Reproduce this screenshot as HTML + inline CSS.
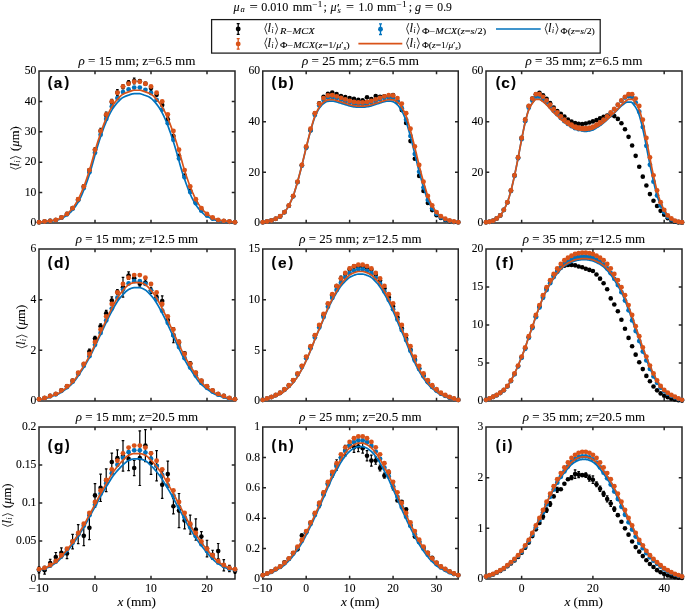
<!DOCTYPE html><html><head><meta charset="utf-8"><style>html,body{margin:0;padding:0;background:#fff;overflow:hidden}svg{display:block;will-change:transform}text{font-family:"Liberation Serif",serif;fill:#000;stroke:#000;stroke-width:0.08px}.tk{font-size:11.6px}.pl{font-family:"Liberation Sans",sans-serif;font-weight:bold;stroke:#000;stroke-width:0.15px}.lg{font-size:12.5px}</style></head><body>
<svg width="685" height="610" viewBox="0 0 685 610">
<rect width="685" height="610" fill="#fff"/>
<defs>
<clipPath id="cpa"><rect x="36.00" y="68.00" width="202.00" height="158.00"/></clipPath>
<clipPath id="cpb"><rect x="259.75" y="68.00" width="201.50" height="158.00"/></clipPath>
<clipPath id="cpc"><rect x="483.00" y="68.00" width="202.00" height="158.00"/></clipPath>
<clipPath id="cpd"><rect x="36.00" y="246.00" width="202.00" height="158.00"/></clipPath>
<clipPath id="cpe"><rect x="259.75" y="246.00" width="201.50" height="158.00"/></clipPath>
<clipPath id="cpf"><rect x="483.00" y="246.00" width="202.00" height="158.00"/></clipPath>
<clipPath id="cpg"><rect x="36.00" y="424.00" width="202.00" height="158.00"/></clipPath>
<clipPath id="cph"><rect x="259.75" y="424.00" width="201.50" height="158.00"/></clipPath>
<clipPath id="cpi"><rect x="483.00" y="424.00" width="202.00" height="158.00"/></clipPath>
</defs>
<path d="M39.00 71.00H235.00V223.00H39.00ZM95.00 223.00V220.50M95.00 71.00V73.50M151.00 223.00V220.50M151.00 71.00V73.50M207.00 223.00V220.50M207.00 71.00V73.50M39.00 192.60H41.50M235.00 192.60H232.50M39.00 162.20H41.50M235.00 162.20H232.50M39.00 131.80H41.50M235.00 131.80H232.50M39.00 101.40H41.50M235.00 101.40H232.50" fill="none" stroke="#262626" stroke-width="1.5" stroke-linecap="square"/>
<g clip-path="url(#cpa)">
<path d="M95.00 147.75V151.88M93.70 147.75H96.30M93.70 151.88H96.30M100.60 128.25V133.77M99.30 128.25H101.90M99.30 133.77H101.90M106.20 112.07V118.32M104.90 112.07H107.50M104.90 118.32H107.50M111.80 99.40V104.36M110.50 99.40H113.10M110.50 104.36H113.10M117.40 89.55V95.45M116.10 89.55H118.70M116.10 95.45H118.70M123.00 84.66V88.84M121.70 84.66H124.30M121.70 88.84H124.30M128.60 80.50V85.12M127.30 80.50H129.90M127.30 85.12H129.90M134.20 78.14V83.84M132.90 78.14H135.50M132.90 83.84H135.50M151.00 85.79V90.41M149.70 85.79H152.30M149.70 90.41H152.30M167.80 116.37V122.19M166.50 116.37H169.10M166.50 122.19H169.10" stroke="#000" stroke-width="1.2" fill="none"/>
<g fill="#000"><circle cx="39.00" cy="222.22" r="2.30"/><circle cx="44.60" cy="221.48" r="2.30"/><circle cx="50.20" cy="220.88" r="2.30"/><circle cx="55.80" cy="219.95" r="2.30"/><circle cx="61.40" cy="217.51" r="2.30"/><circle cx="67.00" cy="213.92" r="2.30"/><circle cx="72.60" cy="208.14" r="2.30"/><circle cx="78.20" cy="199.38" r="2.30"/><circle cx="83.80" cy="186.42" r="2.30"/><circle cx="89.40" cy="170.16" r="2.30"/><circle cx="95.00" cy="149.82" r="2.30"/><circle cx="100.60" cy="131.01" r="2.30"/><circle cx="106.20" cy="115.19" r="2.30"/><circle cx="111.80" cy="101.88" r="2.30"/><circle cx="117.40" cy="92.50" r="2.30"/><circle cx="123.00" cy="86.75" r="2.30"/><circle cx="128.60" cy="82.81" r="2.30"/><circle cx="134.20" cy="80.99" r="2.30"/><circle cx="139.80" cy="81.14" r="2.30"/><circle cx="145.40" cy="83.65" r="2.30"/><circle cx="151.00" cy="88.10" r="2.30"/><circle cx="156.60" cy="94.85" r="2.30"/><circle cx="162.20" cy="104.94" r="2.30"/><circle cx="167.80" cy="119.28" r="2.30"/><circle cx="173.40" cy="136.03" r="2.30"/><circle cx="179.00" cy="155.78" r="2.30"/><circle cx="184.60" cy="175.48" r="2.30"/><circle cx="190.20" cy="190.76" r="2.30"/><circle cx="195.80" cy="202.30" r="2.30"/><circle cx="201.40" cy="210.07" r="2.30"/><circle cx="207.00" cy="215.14" r="2.30"/><circle cx="212.60" cy="218.37" r="2.30"/><circle cx="218.20" cy="220.30" r="2.30"/><circle cx="223.80" cy="221.07" r="2.30"/><circle cx="229.40" cy="221.68" r="2.30"/><circle cx="235.00" cy="222.21" r="2.30"/></g>
<g fill="#0072BD"><circle cx="39.00" cy="222.24" r="2.40"/><circle cx="44.60" cy="221.54" r="2.40"/><circle cx="50.20" cy="220.96" r="2.40"/><circle cx="55.80" cy="220.08" r="2.40"/><circle cx="61.40" cy="217.72" r="2.40"/><circle cx="67.00" cy="214.25" r="2.40"/><circle cx="72.60" cy="208.71" r="2.40"/><circle cx="78.20" cy="200.26" r="2.40"/><circle cx="83.80" cy="188.02" r="2.40"/><circle cx="89.40" cy="172.27" r="2.40"/><circle cx="95.00" cy="152.74" r="2.40"/><circle cx="100.60" cy="134.66" r="2.40"/><circle cx="106.20" cy="118.91" r="2.40"/><circle cx="111.80" cy="106.51" r="2.40"/><circle cx="117.40" cy="98.04" r="2.40"/><circle cx="123.00" cy="92.06" r="2.40"/><circle cx="128.60" cy="89.43" r="2.40"/><circle cx="134.20" cy="87.58" r="2.40"/><circle cx="139.80" cy="87.61" r="2.40"/><circle cx="145.40" cy="89.80" r="2.40"/><circle cx="151.00" cy="93.01" r="2.40"/><circle cx="156.60" cy="99.93" r="2.40"/><circle cx="162.20" cy="109.55" r="2.40"/><circle cx="167.80" cy="123.14" r="2.40"/><circle cx="173.40" cy="139.78" r="2.40"/><circle cx="179.00" cy="158.58" r="2.40"/><circle cx="184.60" cy="177.35" r="2.40"/><circle cx="190.20" cy="192.05" r="2.40"/><circle cx="195.80" cy="203.13" r="2.40"/><circle cx="201.40" cy="210.63" r="2.40"/><circle cx="207.00" cy="215.45" r="2.40"/><circle cx="212.60" cy="218.57" r="2.40"/><circle cx="218.20" cy="220.42" r="2.40"/><circle cx="223.80" cy="221.15" r="2.40"/><circle cx="229.40" cy="221.74" r="2.40"/><circle cx="235.00" cy="222.24" r="2.40"/></g>
<polyline fill="none" stroke="#0072BD" stroke-width="1.7" points="39.00,222.21 40.40,222.21 41.80,222.15 43.20,221.95 44.60,221.77 46.00,221.59 47.40,221.42 48.80,221.27 50.20,221.12 51.60,220.96 53.00,220.78 54.40,220.59 55.80,220.37 57.20,220.09 58.60,219.72 60.00,219.17 61.40,218.48 62.80,217.74 64.20,216.97 65.60,216.12 67.00,215.18 68.40,214.13 69.80,212.94 71.20,211.57 72.60,210.03 74.00,208.33 75.40,206.45 76.80,204.32 78.20,201.97 79.60,199.41 81.00,196.58 82.40,193.42 83.80,190.03 85.20,186.46 86.60,182.68 88.00,178.65 89.40,174.40 90.80,169.95 92.20,165.12 93.60,160.01 95.00,154.93 96.40,150.14 97.80,145.53 99.20,141.06 100.60,136.77 102.00,132.71 103.40,128.80 104.80,125.07 106.20,121.59 107.60,118.40 109.00,115.38 110.40,112.59 111.80,110.07 113.20,107.89 114.60,105.92 116.00,104.14 117.40,102.53 118.80,101.05 120.20,99.63 121.60,98.37 123.00,97.38 124.40,96.67 125.80,96.10 127.20,95.61 128.60,95.16 130.00,94.67 131.40,94.16 132.80,93.78 134.20,93.65 135.60,93.65 137.00,93.65 138.40,93.65 139.80,93.68 141.20,93.97 142.60,94.45 144.00,94.99 145.40,95.46 146.80,95.95 148.20,96.52 149.60,97.22 151.00,98.20 152.40,99.49 153.80,100.95 155.20,102.48 156.60,104.14 158.00,105.97 159.40,107.99 160.80,110.24 162.20,112.82 163.60,115.68 165.00,118.75 166.40,122.00 167.80,125.55 169.20,129.34 170.60,133.29 172.00,137.40 173.40,141.73 174.80,146.25 176.20,150.88 177.60,155.74 179.00,160.85 180.40,165.94 181.80,170.70 183.20,175.12 184.60,179.34 186.00,183.33 187.40,187.07 188.80,190.61 190.20,193.98 191.60,197.08 193.00,199.86 194.40,202.38 195.80,204.70 197.20,206.79 198.60,208.63 200.00,210.30 201.40,211.81 202.80,213.15 204.20,214.32 205.60,215.35 207.00,216.27 208.40,217.10 209.80,217.87 211.20,218.61 212.60,219.27 214.00,219.80 215.40,220.15 216.80,220.41 218.20,220.62 219.60,220.81 221.00,220.99 222.40,221.15 223.80,221.29 225.20,221.44 226.60,221.62 228.00,221.80 229.40,221.99 230.80,222.18 232.20,222.21 233.60,222.21 235.00,222.21"/>
<g fill="#D95319"><circle cx="39.00" cy="222.21" r="2.45"/><circle cx="44.60" cy="221.48" r="2.45"/><circle cx="50.20" cy="220.87" r="2.45"/><circle cx="55.80" cy="219.96" r="2.45"/><circle cx="61.40" cy="217.50" r="2.45"/><circle cx="67.00" cy="213.88" r="2.45"/><circle cx="72.60" cy="208.10" r="2.45"/><circle cx="78.20" cy="199.29" r="2.45"/><circle cx="83.80" cy="186.52" r="2.45"/><circle cx="89.40" cy="170.10" r="2.45"/><circle cx="95.00" cy="149.74" r="2.45"/><circle cx="100.60" cy="130.89" r="2.45"/><circle cx="106.20" cy="114.47" r="2.45"/><circle cx="111.80" cy="101.55" r="2.45"/><circle cx="117.40" cy="92.74" r="2.45"/><circle cx="123.00" cy="86.50" r="2.45"/><circle cx="128.60" cy="83.77" r="2.45"/><circle cx="134.20" cy="81.79" r="2.45"/><circle cx="139.80" cy="81.79" r="2.45"/><circle cx="145.40" cy="83.77" r="2.45"/><circle cx="151.00" cy="86.50" r="2.45"/><circle cx="156.60" cy="92.74" r="2.45"/><circle cx="162.20" cy="101.55" r="2.45"/><circle cx="167.80" cy="114.47" r="2.45"/><circle cx="173.40" cy="130.89" r="2.45"/><circle cx="179.00" cy="149.74" r="2.45"/><circle cx="184.60" cy="170.10" r="2.45"/><circle cx="190.20" cy="186.52" r="2.45"/><circle cx="195.80" cy="199.29" r="2.45"/><circle cx="201.40" cy="208.10" r="2.45"/><circle cx="207.00" cy="213.88" r="2.45"/><circle cx="212.60" cy="217.50" r="2.45"/><circle cx="218.20" cy="219.96" r="2.45"/><circle cx="223.80" cy="220.87" r="2.45"/><circle cx="229.40" cy="221.48" r="2.45"/><circle cx="235.00" cy="222.21" r="2.45"/></g>
<polyline fill="none" stroke="#D95319" stroke-width="1.7" points="39.00,222.21 40.40,222.02 41.80,221.83 43.20,221.65 44.60,221.48 46.00,221.33 47.40,221.18 48.80,221.04 50.20,220.87 51.60,220.69 53.00,220.49 54.40,220.26 55.80,219.96 57.20,219.53 58.60,218.93 60.00,218.23 61.40,217.50 62.80,216.73 64.20,215.88 65.60,214.94 67.00,213.88 68.40,212.68 69.80,211.31 71.20,209.79 72.60,208.11 74.00,206.25 75.40,204.15 76.80,201.83 78.20,199.33 79.60,196.56 81.00,193.47 82.40,190.15 83.80,186.67 85.20,182.98 86.60,179.05 88.00,174.89 89.40,170.55 90.80,165.86 92.20,160.84 93.60,155.77 95.00,150.92 96.40,146.30 97.80,141.78 99.20,137.41 100.60,133.24 102.00,129.23 103.40,125.37 104.80,121.71 106.20,118.32 107.60,115.15 109.00,112.15 110.40,109.39 111.80,106.94 113.20,104.77 114.60,102.80 116.00,101.01 117.40,99.39 118.80,97.85 120.20,96.39 121.60,95.13 123.00,94.16 124.40,93.45 125.80,92.86 127.20,92.36 128.60,91.89 130.00,91.37 131.40,90.84 132.80,90.43 134.20,90.26 135.60,90.26 137.00,90.26 138.40,90.26 139.80,90.26 141.20,90.43 142.60,90.84 144.00,91.37 145.40,91.89 146.80,92.36 148.20,92.86 149.60,93.45 151.00,94.16 152.40,95.13 153.80,96.39 155.20,97.85 156.60,99.39 158.00,101.01 159.40,102.80 160.80,104.77 162.20,106.94 163.60,109.39 165.00,112.15 166.40,115.15 167.80,118.32 169.20,121.71 170.60,125.37 172.00,129.23 173.40,133.24 174.80,137.41 176.20,141.78 177.60,146.30 179.00,150.92 180.40,155.77 181.80,160.84 183.20,165.86 184.60,170.55 186.00,174.89 187.40,179.05 188.80,182.98 190.20,186.67 191.60,190.15 193.00,193.47 194.40,196.56 195.80,199.33 197.20,201.83 198.60,204.15 200.00,206.25 201.40,208.11 202.80,209.79 204.20,211.31 205.60,212.68 207.00,213.88 208.40,214.94 209.80,215.88 211.20,216.73 212.60,217.50 214.00,218.23 215.40,218.93 216.80,219.53 218.20,219.96 219.60,220.26 221.00,220.49 222.40,220.69 223.80,220.87 225.20,221.04 226.60,221.18 228.00,221.33 229.40,221.48 230.80,221.65 232.20,221.83 233.60,222.02 235.00,222.21"/>
</g>
<text class="tk" x="36.40" y="226.20" text-anchor="end">0</text>
<text class="tk" x="36.40" y="195.80" text-anchor="end">10</text>
<text class="tk" x="36.40" y="165.40" text-anchor="end">20</text>
<text class="tk" x="36.40" y="135.00" text-anchor="end">30</text>
<text class="tk" x="36.40" y="104.60" text-anchor="end">40</text>
<text class="tk" x="36.40" y="74.20" text-anchor="end">50</text>
<text class="tk" x="78.50" y="64.70" textLength="117.0" lengthAdjust="spacingAndGlyphs"><tspan font-style="italic">ρ</tspan> = 15 mm; z=6.5 mm</text>
<text class="pl" x="47.63" y="86.76" font-size="13.9">(</text>
<text class="pl" x="53.65" y="87.85" font-size="15.4">a</text>
<text class="pl" x="64.42" y="86.76" font-size="13.9">)</text>
<path d="M262.75 71.00H458.25V223.00H262.75ZM306.19 223.00V220.50M306.19 71.00V73.50M349.64 223.00V220.50M349.64 71.00V73.50M393.08 223.00V220.50M393.08 71.00V73.50M436.53 223.00V220.50M436.53 71.00V73.50M262.75 172.33H265.25M458.25 172.33H455.75M262.75 121.67H265.25M458.25 121.67H455.75" fill="none" stroke="#262626" stroke-width="1.5" stroke-linecap="square"/>
<g clip-path="url(#cpb)">
<g fill="#000"><circle cx="262.75" cy="222.24" r="2.30"/><circle cx="267.09" cy="221.46" r="2.30"/><circle cx="271.44" cy="220.44" r="2.30"/><circle cx="275.78" cy="218.82" r="2.30"/><circle cx="280.13" cy="216.38" r="2.30"/><circle cx="284.47" cy="212.11" r="2.30"/><circle cx="288.82" cy="205.78" r="2.30"/><circle cx="293.16" cy="196.32" r="2.30"/><circle cx="297.51" cy="181.96" r="2.30"/><circle cx="301.85" cy="165.13" r="2.30"/><circle cx="306.19" cy="147.40" r="2.30"/><circle cx="310.54" cy="130.41" r="2.30"/><circle cx="314.88" cy="113.50" r="2.30"/><circle cx="319.23" cy="103.25" r="2.30"/><circle cx="323.57" cy="96.84" r="2.30"/><circle cx="327.92" cy="93.80" r="2.30"/><circle cx="332.26" cy="92.53" r="2.30"/><circle cx="336.61" cy="94.05" r="2.30"/><circle cx="340.95" cy="96.08" r="2.30"/><circle cx="345.29" cy="97.09" r="2.30"/><circle cx="349.64" cy="98.11" r="2.30"/><circle cx="353.98" cy="98.87" r="2.30"/><circle cx="358.33" cy="99.88" r="2.30"/><circle cx="362.67" cy="100.39" r="2.30"/><circle cx="367.02" cy="97.35" r="2.30"/><circle cx="371.36" cy="99.12" r="2.30"/><circle cx="375.71" cy="96.08" r="2.30"/><circle cx="380.05" cy="96.84" r="2.30"/><circle cx="384.39" cy="96.33" r="2.30"/><circle cx="388.74" cy="97.02" r="2.30"/><circle cx="393.08" cy="95.01" r="2.30"/><circle cx="397.43" cy="101.12" r="2.30"/><circle cx="401.77" cy="110.11" r="2.30"/><circle cx="406.12" cy="122.94" r="2.30"/><circle cx="410.46" cy="141.08" r="2.30"/><circle cx="414.81" cy="158.71" r="2.30"/><circle cx="419.15" cy="175.91" r="2.30"/><circle cx="423.49" cy="191.03" r="2.30"/><circle cx="427.84" cy="202.97" r="2.30"/><circle cx="432.18" cy="210.11" r="2.30"/><circle cx="436.53" cy="215.13" r="2.30"/><circle cx="440.87" cy="218.07" r="2.30"/><circle cx="445.22" cy="219.97" r="2.30"/><circle cx="449.56" cy="221.18" r="2.30"/><circle cx="453.91" cy="222.01" r="2.30"/><circle cx="458.25" cy="222.25" r="2.30"/></g>
<g fill="#0072BD"><circle cx="262.75" cy="222.25" r="2.40"/><circle cx="267.09" cy="221.50" r="2.40"/><circle cx="271.44" cy="220.50" r="2.40"/><circle cx="275.78" cy="218.86" r="2.40"/><circle cx="280.13" cy="216.41" r="2.40"/><circle cx="284.47" cy="212.27" r="2.40"/><circle cx="288.82" cy="205.78" r="2.40"/><circle cx="293.16" cy="196.30" r="2.40"/><circle cx="297.51" cy="182.33" r="2.40"/><circle cx="301.85" cy="165.86" r="2.40"/><circle cx="306.19" cy="147.64" r="2.40"/><circle cx="310.54" cy="130.17" r="2.40"/><circle cx="314.88" cy="114.95" r="2.40"/><circle cx="319.23" cy="105.47" r="2.40"/><circle cx="323.57" cy="99.98" r="2.40"/><circle cx="327.92" cy="97.48" r="2.40"/><circle cx="332.26" cy="97.24" r="2.40"/><circle cx="336.61" cy="98.23" r="2.40"/><circle cx="340.95" cy="99.73" r="2.40"/><circle cx="345.29" cy="101.23" r="2.40"/><circle cx="349.64" cy="102.73" r="2.40"/><circle cx="353.98" cy="103.73" r="2.40"/><circle cx="358.33" cy="104.22" r="2.40"/><circle cx="362.67" cy="104.22" r="2.40"/><circle cx="367.02" cy="103.70" r="2.40"/><circle cx="371.36" cy="102.63" r="2.40"/><circle cx="375.71" cy="101.02" r="2.40"/><circle cx="380.05" cy="99.40" r="2.40"/><circle cx="384.39" cy="97.88" r="2.40"/><circle cx="388.74" cy="97.26" r="2.40"/><circle cx="393.08" cy="97.94" r="2.40"/><circle cx="397.43" cy="101.44" r="2.40"/><circle cx="401.77" cy="108.21" r="2.40"/><circle cx="406.12" cy="119.65" r="2.40"/><circle cx="410.46" cy="136.07" r="2.40"/><circle cx="414.81" cy="154.03" r="2.40"/><circle cx="419.15" cy="171.85" r="2.40"/><circle cx="423.49" cy="187.60" r="2.40"/><circle cx="427.84" cy="200.03" r="2.40"/><circle cx="432.18" cy="208.35" r="2.40"/><circle cx="436.53" cy="213.94" r="2.40"/><circle cx="440.87" cy="217.40" r="2.40"/><circle cx="445.22" cy="219.51" r="2.40"/><circle cx="449.56" cy="220.90" r="2.40"/><circle cx="453.91" cy="221.79" r="2.40"/><circle cx="458.25" cy="222.25" r="2.40"/></g>
<polyline fill="none" stroke="#0072BD" stroke-width="1.7" points="262.75,222.24 263.84,222.07 264.92,221.89 266.01,221.69 267.09,221.48 268.18,221.26 269.27,221.02 270.35,220.76 271.44,220.47 272.52,220.12 273.61,219.72 274.70,219.28 275.78,218.79 276.87,218.27 277.96,217.69 279.04,217.05 280.13,216.31 281.21,215.46 282.30,214.46 283.39,213.34 284.47,212.11 285.56,210.73 286.64,209.16 287.73,207.42 288.82,205.53 289.90,203.47 290.99,201.19 292.07,198.68 293.16,195.95 294.25,192.86 295.33,189.39 296.42,185.69 297.51,181.90 298.59,178.01 299.68,173.96 300.76,169.78 301.85,165.53 302.94,161.15 304.02,156.65 305.11,152.13 306.19,147.73 307.28,143.42 308.37,139.16 309.45,135.02 310.54,131.07 311.62,127.21 312.71,123.43 313.80,119.94 314.88,116.95 315.97,114.40 317.06,112.10 318.14,110.08 319.23,108.37 320.31,106.87 321.40,105.53 322.49,104.38 323.57,103.48 324.66,102.73 325.74,102.05 326.83,101.54 327.92,101.28 329.00,101.19 330.09,101.13 331.18,101.08 332.26,101.07 333.35,101.15 334.43,101.37 335.52,101.66 336.61,101.94 337.69,102.24 338.78,102.57 339.86,102.92 340.95,103.26 342.04,103.60 343.12,103.93 344.21,104.26 345.29,104.59 346.38,104.93 347.47,105.29 348.55,105.63 349.64,105.92 350.73,106.18 351.81,106.42 352.90,106.64 353.98,106.81 355.07,106.96 356.16,107.11 357.24,107.21 358.33,107.25 359.41,107.25 360.50,107.25 361.59,107.25 362.67,107.25 363.76,107.20 364.84,107.09 365.93,106.94 367.02,106.78 368.10,106.60 369.19,106.37 370.27,106.11 371.36,105.83 372.45,105.50 373.53,105.14 374.62,104.76 375.71,104.40 376.79,104.05 377.88,103.69 378.96,103.34 380.05,102.98 381.14,102.60 382.22,102.24 383.31,101.93 384.39,101.63 385.48,101.34 386.57,101.13 387.65,101.07 388.74,101.09 389.82,101.14 390.91,101.22 392.00,101.33 393.08,101.69 394.17,102.27 395.26,102.99 396.34,103.78 397.43,104.78 398.51,106.01 399.60,107.42 400.69,108.99 401.77,110.83 402.86,112.96 403.94,115.37 405.03,118.05 406.12,121.26 407.20,124.90 408.29,128.74 409.38,132.61 410.46,136.64 411.55,140.84 412.63,145.13 413.72,149.46 414.81,153.92 415.89,158.45 416.98,162.92 418.06,167.23 419.15,171.46 420.24,175.59 421.32,179.59 422.41,183.42 423.49,187.19 424.58,190.81 425.67,194.15 426.75,197.07 427.84,199.71 428.92,202.13 430.01,204.32 431.10,206.30 432.18,208.13 433.27,209.81 434.36,211.30 435.44,212.62 436.53,213.80 437.61,214.88 438.70,215.82 439.79,216.62 440.87,217.31 441.96,217.93 443.04,218.49 444.13,218.99 445.22,219.46 446.30,219.89 447.39,220.27 448.48,220.59 449.56,220.87 450.65,221.12 451.73,221.35 452.82,221.57 453.91,221.77 454.99,221.96 456.08,222.14 457.16,222.24 458.25,222.24"/>
<g fill="#D95319"><circle cx="262.75" cy="222.24" r="2.45"/><circle cx="267.09" cy="221.48" r="2.45"/><circle cx="271.44" cy="220.47" r="2.45"/><circle cx="275.78" cy="218.79" r="2.45"/><circle cx="280.13" cy="216.31" r="2.45"/><circle cx="284.47" cy="212.11" r="2.45"/><circle cx="288.82" cy="205.52" r="2.45"/><circle cx="293.16" cy="195.89" r="2.45"/><circle cx="297.51" cy="181.71" r="2.45"/><circle cx="301.85" cy="164.99" r="2.45"/><circle cx="306.19" cy="146.49" r="2.45"/><circle cx="310.54" cy="128.76" r="2.45"/><circle cx="314.88" cy="113.31" r="2.45"/><circle cx="319.23" cy="103.68" r="2.45"/><circle cx="323.57" cy="98.11" r="2.45"/><circle cx="327.92" cy="95.57" r="2.45"/><circle cx="332.26" cy="95.32" r="2.45"/><circle cx="336.61" cy="96.33" r="2.45"/><circle cx="340.95" cy="97.85" r="2.45"/><circle cx="345.29" cy="99.37" r="2.45"/><circle cx="349.64" cy="100.89" r="2.45"/><circle cx="353.98" cy="101.91" r="2.45"/><circle cx="358.33" cy="102.41" r="2.45"/><circle cx="362.67" cy="102.41" r="2.45"/><circle cx="367.02" cy="101.91" r="2.45"/><circle cx="371.36" cy="100.89" r="2.45"/><circle cx="375.71" cy="99.37" r="2.45"/><circle cx="380.05" cy="97.85" r="2.45"/><circle cx="384.39" cy="96.33" r="2.45"/><circle cx="388.74" cy="95.32" r="2.45"/><circle cx="393.08" cy="95.57" r="2.45"/><circle cx="397.43" cy="98.11" r="2.45"/><circle cx="401.77" cy="103.68" r="2.45"/><circle cx="406.12" cy="113.31" r="2.45"/><circle cx="410.46" cy="128.76" r="2.45"/><circle cx="414.81" cy="146.49" r="2.45"/><circle cx="419.15" cy="164.99" r="2.45"/><circle cx="423.49" cy="181.71" r="2.45"/><circle cx="427.84" cy="195.89" r="2.45"/><circle cx="432.18" cy="205.52" r="2.45"/><circle cx="436.53" cy="212.11" r="2.45"/><circle cx="440.87" cy="216.31" r="2.45"/><circle cx="445.22" cy="218.79" r="2.45"/><circle cx="449.56" cy="220.47" r="2.45"/><circle cx="453.91" cy="221.48" r="2.45"/><circle cx="458.25" cy="222.24" r="2.45"/></g>
<polyline fill="none" stroke="#D95319" stroke-width="1.7" points="262.75,222.24 263.84,222.07 264.92,221.89 266.01,221.69 267.09,221.48 268.18,221.26 269.27,221.02 270.35,220.76 271.44,220.47 272.52,220.12 273.61,219.72 274.70,219.28 275.78,218.79 276.87,218.27 277.96,217.69 279.04,217.05 280.13,216.31 281.21,215.46 282.30,214.46 283.39,213.34 284.47,212.11 285.56,210.73 286.64,209.15 287.73,207.42 288.82,205.53 289.90,203.47 290.99,201.18 292.07,198.67 293.16,195.93 294.25,192.84 295.33,189.36 296.42,185.65 297.51,181.85 298.59,177.95 299.68,173.87 300.76,169.67 301.85,165.39 302.94,160.99 304.02,156.44 305.11,151.88 306.19,147.43 307.28,143.06 308.37,138.73 309.45,134.52 310.54,130.51 311.62,126.57 312.71,122.70 313.80,119.13 314.88,116.06 315.97,113.44 317.06,111.07 318.14,108.99 319.23,107.22 320.31,105.68 321.40,104.29 322.49,103.10 323.57,102.17 324.66,101.39 325.74,100.69 326.83,100.16 327.92,99.89 329.00,99.79 330.09,99.72 331.18,99.68 332.26,99.66 333.35,99.75 334.43,99.98 335.52,100.28 336.61,100.57 337.69,100.88 338.78,101.22 339.86,101.59 340.95,101.94 342.04,102.28 343.12,102.63 344.21,102.97 345.29,103.31 346.38,103.67 347.47,104.04 348.55,104.38 349.64,104.69 350.73,104.96 351.81,105.21 352.90,105.43 353.98,105.61 355.07,105.77 356.16,105.92 357.24,106.03 358.33,106.07 359.41,106.07 360.50,106.07 361.59,106.07 362.67,106.07 363.76,106.03 364.84,105.92 365.93,105.77 367.02,105.61 368.10,105.43 369.19,105.21 370.27,104.96 371.36,104.69 372.45,104.38 373.53,104.04 374.62,103.67 375.71,103.31 376.79,102.97 377.88,102.63 378.96,102.28 380.05,101.94 381.14,101.59 382.22,101.22 383.31,100.88 384.39,100.57 385.48,100.28 386.57,99.98 387.65,99.75 388.74,99.66 389.82,99.68 390.91,99.72 392.00,99.79 393.08,99.89 394.17,100.16 395.26,100.69 396.34,101.39 397.43,102.17 398.51,103.10 399.60,104.29 400.69,105.68 401.77,107.22 402.86,108.99 403.94,111.07 405.03,113.44 406.12,116.06 407.20,119.13 408.29,122.70 409.38,126.57 410.46,130.51 411.55,134.52 412.63,138.73 413.72,143.06 414.81,147.43 415.89,151.88 416.98,156.44 418.06,160.99 419.15,165.39 420.24,169.67 421.32,173.87 422.41,177.95 423.49,181.85 424.58,185.65 425.67,189.36 426.75,192.84 427.84,195.93 428.92,198.67 430.01,201.18 431.10,203.47 432.18,205.53 433.27,207.42 434.36,209.15 435.44,210.73 436.53,212.11 437.61,213.34 438.70,214.46 439.79,215.46 440.87,216.31 441.96,217.05 443.04,217.69 444.13,218.27 445.22,218.79 446.30,219.28 447.39,219.72 448.48,220.12 449.56,220.47 450.65,220.76 451.73,221.02 452.82,221.26 453.91,221.48 454.99,221.69 456.08,221.89 457.16,222.07 458.25,222.24"/>
</g>
<text class="tk" x="260.15" y="226.20" text-anchor="end">0</text>
<text class="tk" x="260.15" y="175.53" text-anchor="end">20</text>
<text class="tk" x="260.15" y="124.87" text-anchor="end">40</text>
<text class="tk" x="260.15" y="74.20" text-anchor="end">60</text>
<text class="tk" x="302.00" y="64.70" textLength="117.0" lengthAdjust="spacingAndGlyphs"><tspan font-style="italic">ρ</tspan> = 25 mm; z=6.5 mm</text>
<text class="pl" x="271.58" y="86.76" font-size="13.9">(</text>
<text class="pl" x="278.09" y="87.85" font-size="15.4">b</text>
<text class="pl" x="288.95" y="86.76" font-size="13.9">)</text>
<path d="M486.00 71.00H682.00V223.00H486.00ZM521.64 223.00V220.50M521.64 71.00V73.50M592.91 223.00V220.50M592.91 71.00V73.50M664.18 223.00V220.50M664.18 71.00V73.50M486.00 172.33H488.50M682.00 172.33H679.50M486.00 121.67H488.50M682.00 121.67H679.50" fill="none" stroke="#262626" stroke-width="1.5" stroke-linecap="square"/>
<g clip-path="url(#cpc)">
<g fill="#000"><circle cx="486.00" cy="222.24" r="2.30"/><circle cx="489.56" cy="221.73" r="2.30"/><circle cx="493.13" cy="220.72" r="2.30"/><circle cx="496.69" cy="218.44" r="2.30"/><circle cx="500.25" cy="215.40" r="2.30"/><circle cx="503.82" cy="209.83" r="2.30"/><circle cx="507.38" cy="202.23" r="2.30"/><circle cx="510.95" cy="190.57" r="2.30"/><circle cx="514.51" cy="175.37" r="2.30"/><circle cx="518.07" cy="157.39" r="2.30"/><circle cx="521.64" cy="137.88" r="2.30"/><circle cx="525.20" cy="119.64" r="2.30"/><circle cx="528.76" cy="105.96" r="2.30"/><circle cx="532.33" cy="98.61" r="2.30"/><circle cx="535.89" cy="94.31" r="2.30"/><circle cx="539.45" cy="92.79" r="2.30"/><circle cx="543.02" cy="95.32" r="2.30"/><circle cx="546.58" cy="98.87" r="2.30"/><circle cx="550.15" cy="103.17" r="2.30"/><circle cx="553.71" cy="107.48" r="2.30"/><circle cx="557.27" cy="111.03" r="2.30"/><circle cx="560.84" cy="113.81" r="2.30"/><circle cx="564.40" cy="116.60" r="2.30"/><circle cx="567.96" cy="119.64" r="2.30"/><circle cx="571.53" cy="121.67" r="2.30"/><circle cx="575.09" cy="122.93" r="2.30"/><circle cx="578.65" cy="123.69" r="2.30"/><circle cx="582.22" cy="123.95" r="2.30"/><circle cx="585.78" cy="123.44" r="2.30"/><circle cx="589.35" cy="122.43" r="2.30"/><circle cx="592.91" cy="121.41" r="2.30"/><circle cx="596.47" cy="120.15" r="2.30"/><circle cx="600.04" cy="118.37" r="2.30"/><circle cx="603.60" cy="116.85" r="2.30"/><circle cx="607.16" cy="115.59" r="2.30"/><circle cx="610.73" cy="115.08" r="2.30"/><circle cx="614.29" cy="116.09" r="2.30"/><circle cx="617.85" cy="118.88" r="2.30"/><circle cx="621.42" cy="123.19" r="2.30"/><circle cx="624.98" cy="129.27" r="2.30"/><circle cx="628.55" cy="136.87" r="2.30"/><circle cx="632.11" cy="145.48" r="2.30"/><circle cx="635.67" cy="155.87" r="2.30"/><circle cx="639.24" cy="166.76" r="2.30"/><circle cx="642.80" cy="176.64" r="2.30"/><circle cx="646.36" cy="185.51" r="2.30"/><circle cx="649.93" cy="194.12" r="2.30"/><circle cx="653.49" cy="200.71" r="2.30"/><circle cx="657.05" cy="206.03" r="2.30"/><circle cx="660.62" cy="210.84" r="2.30"/><circle cx="664.18" cy="214.64" r="2.30"/><circle cx="667.75" cy="218.19" r="2.30"/><circle cx="671.31" cy="220.47" r="2.30"/><circle cx="674.87" cy="221.73" r="2.30"/><circle cx="678.44" cy="222.49" r="2.30"/><circle cx="682.00" cy="222.75" r="2.30"/></g>
<g fill="#0072BD"><circle cx="486.00" cy="222.25" r="2.40"/><circle cx="489.56" cy="221.75" r="2.40"/><circle cx="493.13" cy="220.75" r="2.40"/><circle cx="496.69" cy="218.51" r="2.40"/><circle cx="500.25" cy="215.51" r="2.40"/><circle cx="503.82" cy="210.02" r="2.40"/><circle cx="507.38" cy="202.54" r="2.40"/><circle cx="510.95" cy="191.06" r="2.40"/><circle cx="514.51" cy="176.09" r="2.40"/><circle cx="518.07" cy="158.37" r="2.40"/><circle cx="521.64" cy="139.16" r="2.40"/><circle cx="525.20" cy="121.19" r="2.40"/><circle cx="528.76" cy="107.72" r="2.40"/><circle cx="532.33" cy="100.48" r="2.40"/><circle cx="535.89" cy="96.24" r="2.40"/><circle cx="539.45" cy="96.24" r="2.40"/><circle cx="543.02" cy="98.73" r="2.40"/><circle cx="546.58" cy="102.23" r="2.40"/><circle cx="550.15" cy="106.47" r="2.40"/><circle cx="553.71" cy="110.71" r="2.40"/><circle cx="557.27" cy="114.20" r="2.40"/><circle cx="560.84" cy="117.95" r="2.40"/><circle cx="564.40" cy="121.19" r="2.40"/><circle cx="567.96" cy="123.94" r="2.40"/><circle cx="571.53" cy="126.18" r="2.40"/><circle cx="575.09" cy="128.18" r="2.40"/><circle cx="578.65" cy="129.18" r="2.40"/><circle cx="582.22" cy="129.67" r="2.40"/><circle cx="585.78" cy="129.67" r="2.40"/><circle cx="589.35" cy="129.15" r="2.40"/><circle cx="592.91" cy="128.07" r="2.40"/><circle cx="596.47" cy="125.89" r="2.40"/><circle cx="600.04" cy="123.40" r="2.40"/><circle cx="603.60" cy="120.36" r="2.40"/><circle cx="607.16" cy="116.81" r="2.40"/><circle cx="610.73" cy="113.05" r="2.40"/><circle cx="614.29" cy="109.32" r="2.40"/><circle cx="617.85" cy="104.97" r="2.40"/><circle cx="621.42" cy="100.91" r="2.40"/><circle cx="624.98" cy="97.60" r="2.40"/><circle cx="628.55" cy="96.24" r="2.40"/><circle cx="632.11" cy="97.01" r="2.40"/><circle cx="635.67" cy="102.56" r="2.40"/><circle cx="639.24" cy="111.68" r="2.40"/><circle cx="642.80" cy="127.05" r="2.40"/><circle cx="646.36" cy="145.85" r="2.40"/><circle cx="649.93" cy="164.80" r="2.40"/><circle cx="653.49" cy="181.67" r="2.40"/><circle cx="657.05" cy="195.49" r="2.40"/><circle cx="660.62" cy="205.48" r="2.40"/><circle cx="664.18" cy="212.20" r="2.40"/><circle cx="667.75" cy="216.73" r="2.40"/><circle cx="671.31" cy="219.41" r="2.40"/><circle cx="674.87" cy="221.19" r="2.40"/><circle cx="678.44" cy="221.97" r="2.40"/><circle cx="682.00" cy="222.25" r="2.40"/></g>
<polyline fill="none" stroke="#0072BD" stroke-width="1.7" points="486.00,222.24 486.89,222.16 487.78,222.04 488.67,221.90 489.56,221.73 490.45,221.55 491.35,221.32 492.24,221.04 493.13,220.72 494.02,220.29 494.91,219.73 495.80,219.10 496.69,218.44 497.58,217.78 498.47,217.09 499.36,216.31 500.25,215.40 501.15,214.28 502.04,212.93 502.93,211.42 503.82,209.83 504.71,208.17 505.60,206.38 506.49,204.42 507.38,202.25 508.27,199.76 509.16,196.94 510.05,193.88 510.95,190.65 511.84,187.22 512.73,183.53 513.62,179.64 514.51,175.62 515.40,171.44 516.29,167.07 517.18,162.58 518.07,158.03 518.96,153.39 519.85,148.63 520.75,143.89 521.64,139.30 522.53,134.78 523.42,130.30 524.31,126.04 525.20,122.17 526.09,118.58 526.98,115.18 527.87,112.13 528.76,109.64 529.65,107.62 530.55,105.86 531.44,104.34 532.33,103.03 533.22,101.75 534.11,100.51 535.00,99.57 535.89,99.20 536.78,99.20 537.67,99.20 538.56,99.20 539.45,99.20 540.35,99.43 541.24,99.99 542.13,100.73 543.02,101.45 543.91,102.15 544.80,102.92 545.69,103.75 546.58,104.62 547.47,105.53 548.36,106.50 549.25,107.50 550.15,108.49 551.04,109.48 551.93,110.49 552.82,111.47 553.71,112.40 554.60,113.25 555.49,114.04 556.38,114.83 557.27,115.64 558.16,116.50 559.05,117.40 559.95,118.28 560.84,119.13 561.73,119.93 562.62,120.71 563.51,121.46 564.40,122.17 565.29,122.86 566.18,123.53 567.07,124.16 567.96,124.76 568.85,125.33 569.75,125.87 570.64,126.38 571.53,126.89 572.42,127.41 573.31,127.93 574.20,128.40 575.09,128.78 575.98,129.08 576.87,129.34 577.76,129.55 578.65,129.73 579.55,129.90 580.44,130.05 581.33,130.16 582.22,130.20 583.11,130.20 584.00,131.33 584.89,131.33 585.78,131.33 586.67,131.28 587.56,131.17 588.45,131.01 589.35,130.85 590.24,130.67 591.13,130.45 592.02,130.18 592.91,129.86 593.80,129.44 594.69,128.93 595.58,128.40 596.47,127.88 597.36,127.35 598.25,126.81 599.15,126.24 600.04,125.63 600.93,124.99 601.82,124.31 602.71,123.62 603.60,122.90 604.49,122.15 605.38,121.37 606.27,120.57 607.16,119.73 608.05,118.87 608.95,118.00 609.84,117.18 610.73,116.41 611.62,115.66 612.51,114.89 613.40,114.06 614.29,113.16 615.18,112.22 616.07,111.27 616.96,110.34 617.85,109.40 618.75,108.47 619.64,107.58 620.53,106.75 621.42,105.95 622.31,105.20 623.20,104.50 624.09,103.86 624.98,103.17 625.87,102.53 626.76,102.11 627.65,102.03 628.55,102.03 629.44,102.03 630.33,102.03 631.22,102.09 632.11,102.67 633.00,103.68 633.89,104.88 634.78,106.05 635.67,107.35 636.56,108.85 637.45,110.60 638.35,112.63 639.24,115.21 640.13,118.25 641.02,121.58 641.91,125.06 642.80,128.94 643.69,133.14 644.58,137.49 645.47,141.87 646.36,146.41 647.25,151.07 648.15,155.70 649.04,160.20 649.93,164.66 650.82,169.05 651.71,173.31 652.60,177.37 653.49,181.31 654.38,185.11 655.27,188.68 656.16,191.99 657.05,195.15 657.95,198.12 658.84,200.81 659.73,203.16 660.62,205.24 661.51,207.12 662.40,208.85 663.29,210.48 664.18,212.04 665.07,213.49 665.96,214.76 666.85,215.78 667.75,216.63 668.64,217.37 669.53,218.05 670.42,218.70 671.31,219.36 672.20,219.97 673.09,220.48 673.98,220.86 674.87,221.16 675.76,221.41 676.65,221.63 677.55,221.80 678.44,221.96 679.33,222.09 680.22,222.19 681.11,222.24 682.00,222.24"/>
<g fill="#D95319"><circle cx="486.00" cy="222.24" r="2.45"/><circle cx="489.56" cy="221.73" r="2.45"/><circle cx="493.13" cy="220.72" r="2.45"/><circle cx="496.69" cy="218.44" r="2.45"/><circle cx="500.25" cy="215.40" r="2.45"/><circle cx="503.82" cy="209.83" r="2.45"/><circle cx="507.38" cy="202.23" r="2.45"/><circle cx="510.95" cy="190.57" r="2.45"/><circle cx="514.51" cy="175.37" r="2.45"/><circle cx="518.07" cy="157.39" r="2.45"/><circle cx="521.64" cy="137.88" r="2.45"/><circle cx="525.20" cy="119.64" r="2.45"/><circle cx="528.76" cy="105.96" r="2.45"/><circle cx="532.33" cy="98.61" r="2.45"/><circle cx="535.89" cy="94.31" r="2.45"/><circle cx="539.45" cy="94.31" r="2.45"/><circle cx="543.02" cy="96.84" r="2.45"/><circle cx="546.58" cy="100.39" r="2.45"/><circle cx="550.15" cy="104.69" r="2.45"/><circle cx="553.71" cy="109.00" r="2.45"/><circle cx="557.27" cy="112.55" r="2.45"/><circle cx="560.84" cy="116.35" r="2.45"/><circle cx="564.40" cy="119.64" r="2.45"/><circle cx="567.96" cy="122.43" r="2.45"/><circle cx="571.53" cy="124.71" r="2.45"/><circle cx="575.09" cy="126.73" r="2.45"/><circle cx="578.65" cy="127.75" r="2.45"/><circle cx="582.22" cy="128.25" r="2.45"/><circle cx="585.78" cy="128.25" r="2.45"/><circle cx="589.35" cy="127.75" r="2.45"/><circle cx="592.91" cy="126.73" r="2.45"/><circle cx="596.47" cy="124.71" r="2.45"/><circle cx="600.04" cy="122.43" r="2.45"/><circle cx="603.60" cy="119.64" r="2.45"/><circle cx="607.16" cy="116.35" r="2.45"/><circle cx="610.73" cy="112.55" r="2.45"/><circle cx="614.29" cy="109.00" r="2.45"/><circle cx="617.85" cy="104.69" r="2.45"/><circle cx="621.42" cy="100.39" r="2.45"/><circle cx="624.98" cy="96.84" r="2.45"/><circle cx="628.55" cy="94.31" r="2.45"/><circle cx="632.11" cy="94.31" r="2.45"/><circle cx="635.67" cy="98.61" r="2.45"/><circle cx="639.24" cy="105.96" r="2.45"/><circle cx="642.80" cy="119.64" r="2.45"/><circle cx="646.36" cy="137.88" r="2.45"/><circle cx="649.93" cy="157.39" r="2.45"/><circle cx="653.49" cy="175.37" r="2.45"/><circle cx="657.05" cy="190.57" r="2.45"/><circle cx="660.62" cy="202.23" r="2.45"/><circle cx="664.18" cy="209.83" r="2.45"/><circle cx="667.75" cy="215.40" r="2.45"/><circle cx="671.31" cy="218.44" r="2.45"/><circle cx="674.87" cy="220.72" r="2.45"/><circle cx="678.44" cy="221.73" r="2.45"/><circle cx="682.00" cy="222.24" r="2.45"/></g>
<polyline fill="none" stroke="#D95319" stroke-width="1.7" points="486.00,222.24 486.89,222.16 487.78,222.04 488.67,221.90 489.56,221.73 490.45,221.55 491.35,221.32 492.24,221.04 493.13,220.72 494.02,220.29 494.91,219.73 495.80,219.10 496.69,218.44 497.58,217.78 498.47,217.09 499.36,216.31 500.25,215.40 501.15,214.28 502.04,212.93 502.93,211.42 503.82,209.83 504.71,208.17 505.60,206.38 506.49,204.42 507.38,202.25 508.27,199.76 509.16,196.94 510.05,193.88 510.95,190.66 511.84,187.23 512.73,183.53 513.62,179.65 514.51,175.63 515.40,171.46 516.29,167.09 517.18,162.60 518.07,158.07 518.96,153.43 519.85,148.68 520.75,143.95 521.64,139.37 522.53,134.87 523.42,130.41 524.31,126.16 525.20,122.31 526.09,118.73 526.98,115.34 527.87,112.31 528.76,109.83 529.65,107.82 530.55,106.07 531.44,104.56 532.33,103.26 533.22,101.99 534.11,100.75 535.00,99.82 535.89,99.45 536.78,99.45 537.67,99.45 538.56,99.45 539.45,99.45 540.35,99.68 541.24,100.24 542.13,100.97 543.02,101.69 543.91,102.39 544.80,103.16 545.69,103.98 546.58,104.84 547.47,105.75 548.36,106.71 549.25,107.71 550.15,108.69 551.04,109.68 551.93,110.68 552.82,111.66 553.71,112.58 554.60,113.42 555.49,114.21 556.38,114.99 557.27,115.80 558.16,116.66 559.05,117.55 559.95,118.44 560.84,119.28 561.73,120.07 562.62,120.85 563.51,121.59 564.40,122.31 565.29,122.99 566.18,123.65 567.07,124.28 567.96,124.88 568.85,125.45 569.75,125.98 570.64,126.50 571.53,127.00 572.42,127.52 573.31,128.04 574.20,128.51 575.09,128.89 575.98,129.18 576.87,129.44 577.76,129.66 578.65,129.83 579.55,130.00 580.44,130.15 581.33,130.26 582.22,130.31 583.11,130.31 584.00,130.31 584.89,130.31 585.78,130.31 586.67,130.26 587.56,130.15 588.45,130.00 589.35,129.83 590.24,129.66 591.13,129.44 592.02,129.18 592.91,128.89 593.80,128.51 594.69,128.04 595.58,127.52 596.47,127.00 597.36,126.50 598.25,125.98 599.15,125.45 600.04,124.88 600.93,124.28 601.82,123.65 602.71,122.99 603.60,122.31 604.49,121.59 605.38,120.85 606.27,120.07 607.16,119.28 608.05,118.44 608.95,117.55 609.84,116.66 610.73,115.80 611.62,114.99 612.51,114.21 613.40,113.42 614.29,112.58 615.18,111.66 616.07,110.68 616.96,109.68 617.85,108.69 618.75,107.71 619.64,106.71 620.53,105.75 621.42,104.84 622.31,103.98 623.20,103.16 624.09,102.39 624.98,101.69 625.87,100.97 626.76,100.24 627.65,99.68 628.55,99.45 629.44,99.45 630.33,99.45 631.22,99.45 632.11,99.45 633.00,99.82 633.89,100.75 634.78,101.99 635.67,103.26 636.56,104.56 637.45,106.07 638.35,107.82 639.24,109.83 640.13,112.31 641.02,115.34 641.91,118.73 642.80,122.31 643.69,126.16 644.58,130.41 645.47,134.87 646.36,139.37 647.25,143.95 648.15,148.68 649.04,153.43 649.93,158.07 650.82,162.60 651.71,167.09 652.60,171.46 653.49,175.63 654.38,179.65 655.27,183.53 656.16,187.23 657.05,190.66 657.95,193.88 658.84,196.94 659.73,199.76 660.62,202.25 661.51,204.42 662.40,206.38 663.29,208.17 664.18,209.83 665.07,211.42 665.96,212.93 666.85,214.28 667.75,215.40 668.64,216.31 669.53,217.09 670.42,217.78 671.31,218.44 672.20,219.10 673.09,219.73 673.98,220.29 674.87,220.72 675.76,221.04 676.65,221.32 677.55,221.55 678.44,221.73 679.33,221.90 680.22,222.04 681.11,222.16 682.00,222.24"/>
</g>
<text class="tk" x="483.40" y="226.20" text-anchor="end">0</text>
<text class="tk" x="483.40" y="175.53" text-anchor="end">20</text>
<text class="tk" x="483.40" y="124.87" text-anchor="end">40</text>
<text class="tk" x="483.40" y="74.20" text-anchor="end">60</text>
<text class="tk" x="525.50" y="64.70" textLength="117.0" lengthAdjust="spacingAndGlyphs"><tspan font-style="italic">ρ</tspan> = 35 mm; z=6.5 mm</text>
<text class="pl" x="495.63" y="86.76" font-size="13.9">(</text>
<text class="pl" x="501.35" y="87.85" font-size="15.4">c</text>
<text class="pl" x="511.25" y="86.76" font-size="13.9">)</text>
<path d="M39.00 249.00H235.00V401.00H39.00ZM95.00 401.00V398.50M95.00 249.00V251.50M151.00 401.00V398.50M151.00 249.00V251.50M207.00 401.00V398.50M207.00 249.00V251.50M39.00 350.33H41.50M235.00 350.33H232.50M39.00 299.67H41.50M235.00 299.67H232.50" fill="none" stroke="#262626" stroke-width="1.5" stroke-linecap="square"/>
<g clip-path="url(#cpd)">
<path d="M89.40 349.07V354.13M88.10 349.07H90.70M88.10 354.13H90.70M95.00 336.40V340.45M93.70 336.40H96.30M93.70 340.45H96.30M100.60 323.73V328.80M99.30 323.73H101.90M99.30 328.80H101.90M106.20 310.31V316.39M104.90 310.31H107.50M104.90 316.39H107.50M111.80 296.88V303.97M110.50 296.88H113.10M110.50 303.97H113.10M117.40 289.53V294.60M116.10 289.53H118.70M116.10 294.60H118.70M123.00 277.37V297.13M121.70 277.37H124.30M121.70 297.13H124.30M128.60 271.80V279.40M127.30 271.80H129.90M127.30 279.40H129.90M134.20 275.09V281.17M132.90 275.09H135.50M132.90 281.17H135.50M139.80 281.17V286.24M138.50 281.17H141.10M138.50 286.24H141.10M145.40 279.40V285.48M144.10 279.40H146.70M144.10 285.48H146.70M151.00 287.25V293.33M149.70 287.25H152.30M149.70 293.33H152.30M156.60 294.09V300.17M155.30 294.09H157.90M155.30 300.17H157.90M162.20 295.87V306.00M160.90 295.87H163.50M160.90 306.00H163.50M167.80 316.89V322.97M166.50 316.89H169.10M166.50 322.97H169.10M173.40 327.53V342.73M172.10 327.53H174.70M172.10 342.73H174.70M179.00 340.20V345.27M177.70 340.20H180.30M177.70 345.27H180.30" stroke="#000" stroke-width="1.2" fill="none"/>
<g fill="#000"><circle cx="39.00" cy="399.27" r="2.30"/><circle cx="44.60" cy="397.94" r="2.30"/><circle cx="50.20" cy="395.85" r="2.30"/><circle cx="55.80" cy="393.93" r="2.30"/><circle cx="61.40" cy="390.20" r="2.30"/><circle cx="67.00" cy="386.19" r="2.30"/><circle cx="72.60" cy="380.67" r="2.30"/><circle cx="78.20" cy="373.08" r="2.30"/><circle cx="83.80" cy="364.12" r="2.30"/><circle cx="89.40" cy="351.60" r="2.30"/><circle cx="95.00" cy="338.43" r="2.30"/><circle cx="100.60" cy="326.27" r="2.30"/><circle cx="106.20" cy="313.35" r="2.30"/><circle cx="111.80" cy="300.43" r="2.30"/><circle cx="117.40" cy="292.07" r="2.30"/><circle cx="123.00" cy="287.25" r="2.30"/><circle cx="128.60" cy="275.60" r="2.30"/><circle cx="134.20" cy="278.13" r="2.30"/><circle cx="139.80" cy="283.71" r="2.30"/><circle cx="145.40" cy="282.44" r="2.30"/><circle cx="151.00" cy="290.29" r="2.30"/><circle cx="156.60" cy="297.13" r="2.30"/><circle cx="162.20" cy="300.93" r="2.30"/><circle cx="167.80" cy="319.93" r="2.30"/><circle cx="173.40" cy="335.13" r="2.30"/><circle cx="179.00" cy="342.73" r="2.30"/><circle cx="184.60" cy="353.36" r="2.30"/><circle cx="190.20" cy="363.26" r="2.30"/><circle cx="195.80" cy="372.77" r="2.30"/><circle cx="201.40" cy="380.72" r="2.30"/><circle cx="207.00" cy="386.26" r="2.30"/><circle cx="212.60" cy="390.59" r="2.30"/><circle cx="218.20" cy="393.99" r="2.30"/><circle cx="223.80" cy="395.87" r="2.30"/><circle cx="229.40" cy="397.93" r="2.30"/><circle cx="235.00" cy="399.24" r="2.30"/></g>
<g fill="#0072BD"><circle cx="39.00" cy="399.31" r="2.40"/><circle cx="44.60" cy="398.11" r="2.40"/><circle cx="50.20" cy="396.18" r="2.40"/><circle cx="55.80" cy="394.25" r="2.40"/><circle cx="61.40" cy="390.87" r="2.40"/><circle cx="67.00" cy="387.01" r="2.40"/><circle cx="72.60" cy="381.71" r="2.40"/><circle cx="78.20" cy="373.99" r="2.40"/><circle cx="83.80" cy="365.79" r="2.40"/><circle cx="89.40" cy="356.14" r="2.40"/><circle cx="95.00" cy="344.81" r="2.40"/><circle cx="100.60" cy="332.99" r="2.40"/><circle cx="106.20" cy="320.44" r="2.40"/><circle cx="111.80" cy="308.62" r="2.40"/><circle cx="117.40" cy="297.75" r="2.40"/><circle cx="123.00" cy="289.53" r="2.40"/><circle cx="128.60" cy="283.50" r="2.40"/><circle cx="134.20" cy="281.14" r="2.40"/><circle cx="139.80" cy="281.15" r="2.40"/><circle cx="145.40" cy="283.93" r="2.40"/><circle cx="151.00" cy="290.57" r="2.40"/><circle cx="156.60" cy="299.42" r="2.40"/><circle cx="162.20" cy="310.74" r="2.40"/><circle cx="167.80" cy="322.83" r="2.40"/><circle cx="173.40" cy="335.37" r="2.40"/><circle cx="179.00" cy="347.12" r="2.40"/><circle cx="184.60" cy="358.19" r="2.40"/><circle cx="190.20" cy="367.52" r="2.40"/><circle cx="195.80" cy="375.61" r="2.40"/><circle cx="201.40" cy="382.92" r="2.40"/><circle cx="207.00" cy="387.87" r="2.40"/><circle cx="212.60" cy="391.60" r="2.40"/><circle cx="218.20" cy="394.70" r="2.40"/><circle cx="223.80" cy="396.58" r="2.40"/><circle cx="229.40" cy="398.39" r="2.40"/><circle cx="235.00" cy="399.31" r="2.40"/></g>
<polyline fill="none" stroke="#0072BD" stroke-width="1.7" points="39.00,399.23 40.40,399.23 41.80,399.23 43.20,399.07 44.60,398.78 46.00,398.43 47.40,398.05 48.80,397.62 50.20,397.10 51.60,396.54 53.00,395.99 54.40,395.48 55.80,395.00 57.20,394.49 58.60,393.88 60.00,393.11 61.40,392.19 62.80,391.19 64.20,390.20 65.60,389.22 67.00,388.21 68.40,387.13 69.80,385.95 71.20,384.66 72.60,383.25 74.00,381.70 75.40,380.00 76.80,378.02 78.20,375.87 79.60,373.68 81.00,371.54 82.40,369.41 83.80,367.25 85.20,365.00 86.60,362.63 88.00,360.16 89.40,357.60 90.80,354.94 92.20,352.17 93.60,349.25 95.00,346.28 96.40,343.31 97.80,340.37 99.20,337.43 100.60,334.47 102.00,331.49 103.40,328.45 104.80,325.39 106.20,322.37 107.60,319.47 109.00,316.66 110.40,313.92 111.80,311.28 113.20,308.73 114.60,306.21 116.00,303.79 117.40,301.56 118.80,299.57 120.20,297.74 121.60,296.05 123.00,294.52 124.40,293.09 125.80,291.71 127.20,290.50 128.60,289.57 130.00,288.89 131.40,288.28 132.80,287.84 134.20,287.68 135.60,287.68 137.00,287.68 138.40,287.68 139.80,287.70 141.20,287.98 142.60,288.50 144.00,289.17 145.40,289.94 146.80,291.04 148.20,292.39 149.60,293.85 151.00,295.36 152.40,297.03 153.80,298.85 155.20,300.81 156.60,303.01 158.00,305.42 159.40,307.95 160.80,310.53 162.20,313.17 163.60,315.91 165.00,318.72 166.40,321.61 167.80,324.62 169.20,327.70 170.60,330.76 172.00,333.76 173.40,336.73 174.80,339.68 176.20,342.62 177.60,345.58 179.00,348.57 180.40,351.50 181.80,354.32 183.20,357.00 184.60,359.58 186.00,362.07 187.40,364.46 188.80,366.74 190.20,368.93 191.60,371.06 193.00,373.18 194.40,375.37 195.80,377.54 197.20,379.57 198.60,381.33 200.00,382.91 201.40,384.35 202.80,385.66 204.20,386.87 205.60,387.97 207.00,388.99 208.40,389.98 209.80,390.96 211.20,391.96 212.60,392.91 214.00,393.72 215.40,394.36 216.80,394.89 218.20,395.38 219.60,395.87 221.00,396.41 222.40,396.97 223.80,397.50 225.20,397.96 226.60,398.35 228.00,398.70 229.40,399.01 230.80,399.23 232.20,399.23 233.60,399.23 235.00,399.23"/>
<g fill="#D95319"><circle cx="39.00" cy="399.23" r="2.45"/><circle cx="44.60" cy="397.96" r="2.45"/><circle cx="50.20" cy="395.93" r="2.45"/><circle cx="55.80" cy="393.91" r="2.45"/><circle cx="61.40" cy="390.36" r="2.45"/><circle cx="67.00" cy="386.31" r="2.45"/><circle cx="72.60" cy="380.73" r="2.45"/><circle cx="78.20" cy="372.63" r="2.45"/><circle cx="83.80" cy="364.01" r="2.45"/><circle cx="89.40" cy="353.88" r="2.45"/><circle cx="95.00" cy="341.97" r="2.45"/><circle cx="100.60" cy="329.56" r="2.45"/><circle cx="106.20" cy="316.39" r="2.45"/><circle cx="111.80" cy="303.97" r="2.45"/><circle cx="117.40" cy="292.57" r="2.45"/><circle cx="123.00" cy="283.96" r="2.45"/><circle cx="128.60" cy="277.63" r="2.45"/><circle cx="134.20" cy="275.09" r="2.45"/><circle cx="139.80" cy="275.09" r="2.45"/><circle cx="145.40" cy="277.63" r="2.45"/><circle cx="151.00" cy="283.96" r="2.45"/><circle cx="156.60" cy="292.57" r="2.45"/><circle cx="162.20" cy="303.97" r="2.45"/><circle cx="167.80" cy="316.39" r="2.45"/><circle cx="173.40" cy="329.56" r="2.45"/><circle cx="179.00" cy="341.97" r="2.45"/><circle cx="184.60" cy="353.88" r="2.45"/><circle cx="190.20" cy="364.01" r="2.45"/><circle cx="195.80" cy="372.63" r="2.45"/><circle cx="201.40" cy="380.73" r="2.45"/><circle cx="207.00" cy="386.31" r="2.45"/><circle cx="212.60" cy="390.36" r="2.45"/><circle cx="218.20" cy="393.91" r="2.45"/><circle cx="223.80" cy="395.93" r="2.45"/><circle cx="229.40" cy="397.96" r="2.45"/><circle cx="235.00" cy="399.23" r="2.45"/></g>
<polyline fill="none" stroke="#D95319" stroke-width="1.7" points="39.00,399.23 40.40,399.23 41.80,399.07 43.20,398.78 44.60,398.45 46.00,398.08 47.40,397.65 48.80,397.14 50.20,396.59 51.60,396.05 53.00,395.55 54.40,395.07 55.80,394.58 57.20,394.00 58.60,393.27 60.00,392.38 61.40,391.41 62.80,390.42 64.20,389.46 65.60,388.47 67.00,387.43 68.40,386.30 69.80,385.05 71.20,383.70 72.60,382.22 74.00,380.60 75.40,378.74 76.80,376.66 78.20,374.48 79.60,372.34 81.00,370.24 82.40,368.11 83.80,365.91 85.20,363.61 86.60,361.19 88.00,358.68 89.40,356.07 90.80,353.36 92.20,350.49 93.60,347.52 95.00,344.51 96.40,341.53 97.80,338.54 99.20,335.53 100.60,332.50 102.00,329.42 103.40,326.27 104.80,323.10 106.20,319.99 107.60,316.98 109.00,314.05 110.40,311.18 111.80,308.39 113.20,305.67 114.60,302.98 116.00,300.39 117.40,298.00 118.80,295.86 120.20,293.87 121.60,292.02 123.00,290.34 124.40,288.75 125.80,287.21 127.20,285.86 128.60,284.83 130.00,284.06 131.40,283.36 132.80,282.85 134.20,282.65 135.60,282.65 137.00,282.65 138.40,282.65 139.80,282.65 141.20,282.85 142.60,283.36 144.00,284.06 145.40,284.83 146.80,285.86 148.20,287.21 149.60,288.75 151.00,290.34 152.40,292.02 153.80,293.87 155.20,295.86 156.60,298.00 158.00,300.39 159.40,302.98 160.80,305.67 162.20,308.39 163.60,311.18 165.00,314.05 166.40,316.98 167.80,319.99 169.20,323.10 170.60,326.27 172.00,329.42 173.40,332.50 174.80,335.53 176.20,338.54 177.60,341.53 179.00,344.51 180.40,347.52 181.80,350.49 183.20,353.36 184.60,356.07 186.00,358.68 187.40,361.19 188.80,363.61 190.20,365.91 191.60,368.11 193.00,370.24 194.40,372.34 195.80,374.48 197.20,376.66 198.60,378.74 200.00,380.60 201.40,382.22 202.80,383.70 204.20,385.05 205.60,386.30 207.00,387.43 208.40,388.47 209.80,389.46 211.20,390.42 212.60,391.41 214.00,392.38 215.40,393.27 216.80,394.00 218.20,394.58 219.60,395.07 221.00,395.55 222.40,396.05 223.80,396.59 225.20,397.14 226.60,397.65 228.00,398.08 229.40,398.45 230.80,398.78 232.20,399.07 233.60,399.23 235.00,399.23"/>
</g>
<text class="tk" x="36.40" y="404.20" text-anchor="end">0</text>
<text class="tk" x="36.40" y="353.53" text-anchor="end">2</text>
<text class="tk" x="36.40" y="302.87" text-anchor="end">4</text>
<text class="tk" x="36.40" y="252.20" text-anchor="end">6</text>
<text class="tk" x="75.85" y="242.70" textLength="122.3" lengthAdjust="spacingAndGlyphs"><tspan font-style="italic">ρ</tspan> = 15 mm; z=12.5 mm</text>
<text class="pl" x="47.63" y="267.36" font-size="13.9">(</text>
<text class="pl" x="53.96" y="268.45" font-size="15.4">d</text>
<text class="pl" x="65.00" y="267.36" font-size="13.9">)</text>
<path d="M262.75 249.00H458.25V401.00H262.75ZM306.19 401.00V398.50M306.19 249.00V251.50M349.64 401.00V398.50M349.64 249.00V251.50M393.08 401.00V398.50M393.08 249.00V251.50M436.53 401.00V398.50M436.53 249.00V251.50M262.75 350.33H265.25M458.25 350.33H455.75M262.75 299.67H265.25M458.25 299.67H455.75" fill="none" stroke="#262626" stroke-width="1.5" stroke-linecap="square"/>
<g clip-path="url(#cpe)">
<path d="M340.95 276.09V280.81M339.65 276.09H342.25M339.65 280.81H342.25M345.29 271.68V276.21M343.99 271.68H346.59M343.99 276.21H346.59M349.64 267.26V271.97M348.34 267.26H350.94M348.34 271.97H350.94M353.98 264.55V268.58M352.68 264.55H355.28M352.68 268.58H355.28M358.33 264.02V269.96M357.03 264.02H359.63M357.03 269.96H359.63M380.05 278.06V283.14M378.75 278.06H381.35M378.75 283.14H381.35" stroke="#000" stroke-width="1.2" fill="none"/>
<g fill="#000"><circle cx="262.75" cy="399.88" r="2.30"/><circle cx="267.09" cy="398.49" r="2.30"/><circle cx="271.44" cy="396.97" r="2.30"/><circle cx="275.78" cy="395.07" r="2.30"/><circle cx="280.13" cy="392.75" r="2.30"/><circle cx="284.47" cy="389.38" r="2.30"/><circle cx="288.82" cy="385.50" r="2.30"/><circle cx="293.16" cy="380.28" r="2.30"/><circle cx="297.51" cy="374.03" r="2.30"/><circle cx="301.85" cy="366.09" r="2.30"/><circle cx="306.19" cy="356.97" r="2.30"/><circle cx="310.54" cy="346.95" r="2.30"/><circle cx="314.88" cy="335.74" r="2.30"/><circle cx="319.23" cy="325.89" r="2.30"/><circle cx="323.57" cy="315.15" r="2.30"/><circle cx="327.92" cy="304.02" r="2.30"/><circle cx="332.26" cy="295.18" r="2.30"/><circle cx="336.61" cy="286.13" r="2.30"/><circle cx="340.95" cy="278.45" r="2.30"/><circle cx="345.29" cy="273.95" r="2.30"/><circle cx="349.64" cy="269.62" r="2.30"/><circle cx="353.98" cy="266.57" r="2.30"/><circle cx="358.33" cy="266.99" r="2.30"/><circle cx="362.67" cy="266.70" r="2.30"/><circle cx="367.02" cy="267.59" r="2.30"/><circle cx="371.36" cy="269.75" r="2.30"/><circle cx="375.71" cy="274.70" r="2.30"/><circle cx="380.05" cy="280.60" r="2.30"/><circle cx="384.39" cy="288.20" r="2.30"/><circle cx="388.74" cy="297.17" r="2.30"/><circle cx="393.08" cy="306.52" r="2.30"/><circle cx="397.43" cy="317.35" r="2.30"/><circle cx="401.77" cy="328.34" r="2.30"/><circle cx="406.12" cy="338.68" r="2.30"/><circle cx="410.46" cy="349.66" r="2.30"/><circle cx="414.81" cy="359.37" r="2.30"/><circle cx="419.15" cy="368.23" r="2.30"/><circle cx="423.49" cy="375.36" r="2.30"/><circle cx="427.84" cy="381.71" r="2.30"/><circle cx="432.18" cy="386.40" r="2.30"/><circle cx="436.53" cy="390.32" r="2.30"/><circle cx="440.87" cy="393.42" r="2.30"/><circle cx="445.22" cy="395.62" r="2.30"/><circle cx="449.56" cy="397.39" r="2.30"/><circle cx="453.91" cy="398.84" r="2.30"/><circle cx="458.25" cy="399.90" r="2.30"/></g>
<g fill="#0072BD"><circle cx="262.75" cy="399.92" r="2.40"/><circle cx="267.09" cy="398.56" r="2.40"/><circle cx="271.44" cy="397.09" r="2.40"/><circle cx="275.78" cy="395.23" r="2.40"/><circle cx="280.13" cy="392.98" r="2.40"/><circle cx="284.47" cy="389.66" r="2.40"/><circle cx="288.82" cy="385.84" r="2.40"/><circle cx="293.16" cy="380.86" r="2.40"/><circle cx="297.51" cy="374.50" r="2.40"/><circle cx="301.85" cy="367.07" r="2.40"/><circle cx="306.19" cy="358.17" r="2.40"/><circle cx="310.54" cy="348.20" r="2.40"/><circle cx="314.88" cy="337.44" r="2.40"/><circle cx="319.23" cy="327.56" r="2.40"/><circle cx="323.57" cy="317.00" r="2.40"/><circle cx="327.92" cy="306.83" r="2.40"/><circle cx="332.26" cy="297.93" r="2.40"/><circle cx="336.61" cy="289.91" r="2.40"/><circle cx="340.95" cy="282.77" r="2.40"/><circle cx="345.29" cy="277.49" r="2.40"/><circle cx="349.64" cy="273.09" r="2.40"/><circle cx="353.98" cy="270.84" r="2.40"/><circle cx="358.33" cy="269.48" r="2.40"/><circle cx="362.67" cy="269.48" r="2.40"/><circle cx="367.02" cy="270.89" r="2.40"/><circle cx="371.36" cy="273.27" r="2.40"/><circle cx="375.71" cy="277.97" r="2.40"/><circle cx="380.05" cy="283.73" r="2.40"/><circle cx="384.39" cy="291.40" r="2.40"/><circle cx="388.74" cy="299.83" r="2.40"/><circle cx="393.08" cy="309.14" r="2.40"/><circle cx="397.43" cy="319.57" r="2.40"/><circle cx="401.77" cy="330.03" r="2.40"/><circle cx="406.12" cy="340.07" r="2.40"/><circle cx="410.46" cy="350.76" r="2.40"/><circle cx="414.81" cy="360.50" r="2.40"/><circle cx="419.15" cy="369.05" r="2.40"/><circle cx="423.49" cy="376.19" r="2.40"/><circle cx="427.84" cy="382.22" r="2.40"/><circle cx="432.18" cy="386.88" r="2.40"/><circle cx="436.53" cy="390.55" r="2.40"/><circle cx="440.87" cy="393.61" r="2.40"/><circle cx="445.22" cy="395.73" r="2.40"/><circle cx="449.56" cy="397.48" r="2.40"/><circle cx="453.91" cy="398.91" r="2.40"/><circle cx="458.25" cy="399.92" r="2.40"/></g>
<polyline fill="none" stroke="#0072BD" stroke-width="1.7" points="262.75,399.89 263.84,399.89 264.92,399.89 266.01,399.75 267.09,399.39 268.18,399.03 269.27,398.66 270.35,398.28 271.44,397.91 272.52,397.52 273.61,397.11 274.70,396.67 275.78,396.20 276.87,395.70 277.96,395.17 279.04,394.63 280.13,394.07 281.21,393.47 282.30,392.80 283.39,392.04 284.47,391.17 285.56,390.24 286.64,389.29 287.73,388.34 288.82,387.36 289.90,386.33 290.99,385.22 292.07,384.01 293.16,382.71 294.25,381.33 295.33,379.87 296.42,378.29 297.51,376.61 298.59,374.86 299.68,373.05 300.76,371.18 301.85,369.23 302.94,367.20 304.02,365.08 305.11,362.83 306.19,360.48 307.28,358.06 308.37,355.59 309.45,353.05 310.54,350.44 311.62,347.79 312.71,345.10 313.80,342.31 314.88,339.51 315.97,336.78 317.06,334.21 318.14,331.74 319.23,329.29 320.31,326.81 321.40,324.23 322.49,321.59 323.57,318.96 324.66,316.38 325.74,313.85 326.83,311.34 327.92,308.90 329.00,306.58 330.09,304.38 331.18,302.26 332.26,300.22 333.35,298.24 334.43,296.32 335.52,294.46 336.61,292.67 337.69,290.93 338.78,289.22 339.86,287.58 340.95,286.05 342.04,284.69 343.12,283.46 344.21,282.31 345.29,281.23 346.38,280.17 347.47,279.11 348.55,278.12 349.64,277.30 350.73,276.67 351.81,276.15 352.90,275.69 353.98,275.30 355.07,274.92 356.16,274.53 357.24,274.24 358.33,274.11 359.41,274.11 360.50,274.11 361.59,274.11 362.67,274.11 363.76,274.25 364.84,274.57 365.93,274.96 367.02,275.34 368.10,275.75 369.19,276.23 370.27,276.78 371.36,277.46 372.45,278.36 373.53,279.42 374.62,280.54 375.71,281.64 376.79,282.80 377.88,284.04 378.96,285.40 380.05,286.93 381.14,288.61 382.22,290.38 383.31,292.17 384.39,294.02 385.48,295.92 386.57,297.89 387.65,299.91 388.74,301.98 389.82,304.13 390.91,306.35 392.00,308.69 393.08,311.14 394.17,313.67 395.26,316.22 396.34,318.81 397.43,321.45 398.51,324.10 399.60,326.70 400.69,329.19 401.77,331.64 402.86,334.11 403.94,336.69 405.03,339.41 406.12,342.21 407.20,345.01 408.29,347.71 409.38,350.36 410.46,352.97 411.55,355.52 412.63,357.98 413.72,360.40 414.81,362.76 415.89,365.01 416.98,367.14 418.06,369.18 419.15,371.12 420.24,373.00 421.32,374.80 422.41,376.56 423.49,378.25 424.58,379.82 425.67,381.29 426.75,382.67 427.84,383.98 428.92,385.18 430.01,386.30 431.10,387.33 432.18,388.31 433.27,389.26 434.36,390.21 435.44,391.15 436.53,392.02 437.61,392.78 438.70,393.45 439.79,394.05 440.87,394.61 441.96,395.15 443.04,395.68 444.13,396.18 445.22,396.66 446.30,397.10 447.39,397.51 448.48,397.89 449.56,398.27 450.65,398.65 451.73,399.02 452.82,399.38 453.91,399.74 454.99,399.89 456.08,399.89 457.16,399.89 458.25,399.89"/>
<g fill="#D95319"><circle cx="262.75" cy="399.89" r="2.45"/><circle cx="267.09" cy="398.47" r="2.45"/><circle cx="271.44" cy="396.95" r="2.45"/><circle cx="275.78" cy="395.02" r="2.45"/><circle cx="280.13" cy="392.69" r="2.45"/><circle cx="284.47" cy="389.25" r="2.45"/><circle cx="288.82" cy="385.29" r="2.45"/><circle cx="293.16" cy="380.13" r="2.45"/><circle cx="297.51" cy="373.54" r="2.45"/><circle cx="301.85" cy="365.84" r="2.45"/><circle cx="306.19" cy="356.62" r="2.45"/><circle cx="310.54" cy="346.28" r="2.45"/><circle cx="314.88" cy="335.13" r="2.45"/><circle cx="319.23" cy="324.90" r="2.45"/><circle cx="323.57" cy="313.95" r="2.45"/><circle cx="327.92" cy="303.42" r="2.45"/><circle cx="332.26" cy="294.19" r="2.45"/><circle cx="336.61" cy="285.89" r="2.45"/><circle cx="340.95" cy="278.49" r="2.45"/><circle cx="345.29" cy="273.02" r="2.45"/><circle cx="349.64" cy="268.46" r="2.45"/><circle cx="353.98" cy="266.13" r="2.45"/><circle cx="358.33" cy="264.71" r="2.45"/><circle cx="362.67" cy="264.71" r="2.45"/><circle cx="367.02" cy="266.13" r="2.45"/><circle cx="371.36" cy="268.46" r="2.45"/><circle cx="375.71" cy="273.02" r="2.45"/><circle cx="380.05" cy="278.49" r="2.45"/><circle cx="384.39" cy="285.89" r="2.45"/><circle cx="388.74" cy="294.19" r="2.45"/><circle cx="393.08" cy="303.42" r="2.45"/><circle cx="397.43" cy="313.95" r="2.45"/><circle cx="401.77" cy="324.90" r="2.45"/><circle cx="406.12" cy="335.13" r="2.45"/><circle cx="410.46" cy="346.28" r="2.45"/><circle cx="414.81" cy="356.62" r="2.45"/><circle cx="419.15" cy="365.84" r="2.45"/><circle cx="423.49" cy="373.54" r="2.45"/><circle cx="427.84" cy="380.13" r="2.45"/><circle cx="432.18" cy="385.29" r="2.45"/><circle cx="436.53" cy="389.25" r="2.45"/><circle cx="440.87" cy="392.69" r="2.45"/><circle cx="445.22" cy="395.02" r="2.45"/><circle cx="449.56" cy="396.95" r="2.45"/><circle cx="453.91" cy="398.47" r="2.45"/><circle cx="458.25" cy="399.89" r="2.45"/></g>
<polyline fill="none" stroke="#D95319" stroke-width="1.7" points="262.75,399.89 263.84,399.89 264.92,399.89 266.01,399.75 267.09,399.39 268.18,399.03 269.27,398.66 270.35,398.28 271.44,397.91 272.52,397.52 273.61,397.11 274.70,396.67 275.78,396.20 276.87,395.70 277.96,395.17 279.04,394.63 280.13,394.06 281.21,393.47 282.30,392.80 283.39,392.04 284.47,391.17 285.56,390.24 286.64,389.29 287.73,388.33 288.82,387.36 289.90,386.32 290.99,385.21 292.07,384.01 293.16,382.71 294.25,381.32 295.33,379.86 296.42,378.28 297.51,376.60 298.59,374.84 299.68,373.03 300.76,371.15 301.85,369.20 302.94,367.16 304.02,365.03 305.11,362.77 306.19,360.41 307.28,357.98 308.37,355.49 309.45,352.93 310.54,350.31 311.62,347.64 312.71,344.91 313.80,342.09 314.88,339.26 315.97,336.50 317.06,333.89 318.14,331.38 319.23,328.89 320.31,326.36 321.40,323.73 322.49,321.04 323.57,318.34 324.66,315.70 325.74,313.10 326.83,310.52 327.92,308.02 329.00,305.62 330.09,303.35 331.18,301.15 332.26,299.04 333.35,296.98 334.43,294.98 335.52,293.04 336.61,291.16 337.69,289.34 338.78,287.55 339.86,285.82 340.95,284.21 342.04,282.78 343.12,281.47 344.21,280.26 345.29,279.11 346.38,277.99 347.47,276.86 348.55,275.81 349.64,274.93 350.73,274.27 351.81,273.70 352.90,273.22 353.98,272.80 355.07,272.39 356.16,271.98 357.24,271.66 358.33,271.52 359.41,271.52 360.50,271.52 361.59,271.52 362.67,271.52 363.76,271.66 364.84,271.98 365.93,272.39 367.02,272.80 368.10,273.22 369.19,273.70 370.27,274.27 371.36,274.93 372.45,275.81 373.53,276.86 374.62,277.99 375.71,279.11 376.79,280.26 377.88,281.47 378.96,282.78 380.05,284.21 381.14,285.82 382.22,287.55 383.31,289.34 384.39,291.16 385.48,293.04 386.57,294.98 387.65,296.98 388.74,299.04 389.82,301.15 390.91,303.35 392.00,305.62 393.08,308.02 394.17,310.52 395.26,313.10 396.34,315.70 397.43,318.34 398.51,321.04 399.60,323.73 400.69,326.36 401.77,328.89 402.86,331.38 403.94,333.89 405.03,336.50 406.12,339.26 407.20,342.09 408.29,344.91 409.38,347.64 410.46,350.31 411.55,352.93 412.63,355.49 413.72,357.98 414.81,360.41 415.89,362.77 416.98,365.03 418.06,367.16 419.15,369.20 420.24,371.15 421.32,373.03 422.41,374.84 423.49,376.60 424.58,378.28 425.67,379.86 426.75,381.32 427.84,382.71 428.92,384.01 430.01,385.21 431.10,386.32 432.18,387.36 433.27,388.33 434.36,389.29 435.44,390.24 436.53,391.17 437.61,392.04 438.70,392.80 439.79,393.47 440.87,394.06 441.96,394.63 443.04,395.17 444.13,395.70 445.22,396.20 446.30,396.67 447.39,397.11 448.48,397.52 449.56,397.91 450.65,398.28 451.73,398.66 452.82,399.03 453.91,399.39 454.99,399.75 456.08,399.89 457.16,399.89 458.25,399.89"/>
</g>
<text class="tk" x="260.15" y="404.20" text-anchor="end">0</text>
<text class="tk" x="260.15" y="353.53" text-anchor="end">5</text>
<text class="tk" x="260.15" y="302.87" text-anchor="end">10</text>
<text class="tk" x="260.15" y="252.20" text-anchor="end">15</text>
<text class="tk" x="299.35" y="242.70" textLength="122.3" lengthAdjust="spacingAndGlyphs"><tspan font-style="italic">ρ</tspan> = 25 mm; z=12.5 mm</text>
<text class="pl" x="271.58" y="267.36" font-size="13.9">(</text>
<text class="pl" x="278.08" y="268.45" font-size="15.4">e</text>
<text class="pl" x="288.41" y="267.36" font-size="13.9">)</text>
<path d="M486.00 249.00H682.00V401.00H486.00ZM521.64 401.00V398.50M521.64 249.00V251.50M592.91 401.00V398.50M592.91 249.00V251.50M664.18 401.00V398.50M664.18 249.00V251.50M486.00 363.00H488.50M682.00 363.00H679.50M486.00 325.00H488.50M682.00 325.00H679.50M486.00 287.00H488.50M682.00 287.00H679.50" fill="none" stroke="#262626" stroke-width="1.5" stroke-linecap="square"/>
<g clip-path="url(#cpf)">
<g fill="#000"><circle cx="486.00" cy="399.88" r="2.30"/><circle cx="489.56" cy="398.53" r="2.30"/><circle cx="493.13" cy="396.88" r="2.30"/><circle cx="496.69" cy="395.16" r="2.30"/><circle cx="500.25" cy="392.92" r="2.30"/><circle cx="503.82" cy="390.15" r="2.30"/><circle cx="507.38" cy="386.25" r="2.30"/><circle cx="510.95" cy="380.86" r="2.30"/><circle cx="514.51" cy="373.98" r="2.30"/><circle cx="518.07" cy="366.12" r="2.30"/><circle cx="521.64" cy="357.28" r="2.30"/><circle cx="525.20" cy="348.22" r="2.30"/><circle cx="528.76" cy="337.22" r="2.30"/><circle cx="532.33" cy="327.34" r="2.30"/><circle cx="535.89" cy="316.33" r="2.30"/><circle cx="539.45" cy="306.53" r="2.30"/><circle cx="543.02" cy="296.72" r="2.30"/><circle cx="546.58" cy="288.86" r="2.30"/><circle cx="550.15" cy="281.97" r="2.30"/><circle cx="553.71" cy="275.60" r="2.30"/><circle cx="557.27" cy="271.04" r="2.30"/><circle cx="560.84" cy="267.62" r="2.30"/><circle cx="564.40" cy="265.72" r="2.30"/><circle cx="567.96" cy="264.96" r="2.30"/><circle cx="571.53" cy="264.96" r="2.30"/><circle cx="575.09" cy="265.34" r="2.30"/><circle cx="578.65" cy="266.48" r="2.30"/><circle cx="582.22" cy="267.24" r="2.30"/><circle cx="585.78" cy="268.76" r="2.30"/><circle cx="589.35" cy="269.90" r="2.30"/><circle cx="592.91" cy="271.04" r="2.30"/><circle cx="596.47" cy="274.46" r="2.30"/><circle cx="600.04" cy="278.64" r="2.30"/><circle cx="603.60" cy="283.20" r="2.30"/><circle cx="607.16" cy="289.28" r="2.30"/><circle cx="610.73" cy="298.40" r="2.30"/><circle cx="614.29" cy="304.48" r="2.30"/><circle cx="617.85" cy="311.32" r="2.30"/><circle cx="621.42" cy="319.68" r="2.30"/><circle cx="624.98" cy="328.80" r="2.30"/><circle cx="628.55" cy="337.92" r="2.30"/><circle cx="632.11" cy="346.28" r="2.30"/><circle cx="635.67" cy="354.64" r="2.30"/><circle cx="639.24" cy="362.24" r="2.30"/><circle cx="642.80" cy="369.08" r="2.30"/><circle cx="646.36" cy="375.92" r="2.30"/><circle cx="649.93" cy="381.24" r="2.30"/><circle cx="653.49" cy="386.56" r="2.30"/><circle cx="657.05" cy="390.36" r="2.30"/><circle cx="660.62" cy="393.40" r="2.30"/><circle cx="664.18" cy="395.68" r="2.30"/><circle cx="667.75" cy="397.20" r="2.30"/><circle cx="671.31" cy="398.72" r="2.30"/><circle cx="674.87" cy="399.48" r="2.30"/><circle cx="678.44" cy="400.24" r="2.30"/><circle cx="682.00" cy="400.62" r="2.30"/></g>
<g fill="#0072BD"><circle cx="486.00" cy="399.89" r="2.40"/><circle cx="489.56" cy="398.55" r="2.40"/><circle cx="493.13" cy="396.92" r="2.40"/><circle cx="496.69" cy="395.22" r="2.40"/><circle cx="500.25" cy="393.00" r="2.40"/><circle cx="503.82" cy="390.26" r="2.40"/><circle cx="507.38" cy="386.40" r="2.40"/><circle cx="510.95" cy="381.07" r="2.40"/><circle cx="514.51" cy="374.25" r="2.40"/><circle cx="518.07" cy="366.47" r="2.40"/><circle cx="521.64" cy="357.73" r="2.40"/><circle cx="525.20" cy="348.76" r="2.40"/><circle cx="528.76" cy="337.87" r="2.40"/><circle cx="532.33" cy="328.09" r="2.40"/><circle cx="535.89" cy="317.19" r="2.40"/><circle cx="539.45" cy="307.49" r="2.40"/><circle cx="543.02" cy="297.78" r="2.40"/><circle cx="546.58" cy="290.00" r="2.40"/><circle cx="550.15" cy="283.18" r="2.40"/><circle cx="553.71" cy="277.10" r="2.40"/><circle cx="557.27" cy="271.77" r="2.40"/><circle cx="560.84" cy="267.40" r="2.40"/><circle cx="564.40" cy="263.77" r="2.40"/><circle cx="567.96" cy="261.32" r="2.40"/><circle cx="571.53" cy="259.39" r="2.40"/><circle cx="575.09" cy="257.69" r="2.40"/><circle cx="578.65" cy="256.95" r="2.40"/><circle cx="582.22" cy="256.43" r="2.40"/><circle cx="585.78" cy="256.43" r="2.40"/><circle cx="589.35" cy="256.97" r="2.40"/><circle cx="592.91" cy="257.76" r="2.40"/><circle cx="596.47" cy="259.61" r="2.40"/><circle cx="600.04" cy="261.72" r="2.40"/><circle cx="603.60" cy="264.50" r="2.40"/><circle cx="607.16" cy="268.48" r="2.40"/><circle cx="610.73" cy="273.19" r="2.40"/><circle cx="614.29" cy="278.81" r="2.40"/><circle cx="617.85" cy="285.12" r="2.40"/><circle cx="621.42" cy="292.19" r="2.40"/><circle cx="624.98" cy="300.53" r="2.40"/><circle cx="628.55" cy="310.36" r="2.40"/><circle cx="632.11" cy="320.40" r="2.40"/><circle cx="635.67" cy="331.06" r="2.40"/><circle cx="639.24" cy="341.11" r="2.40"/><circle cx="642.80" cy="351.58" r="2.40"/><circle cx="646.36" cy="360.40" r="2.40"/><circle cx="649.93" cy="368.90" r="2.40"/><circle cx="653.49" cy="376.41" r="2.40"/><circle cx="657.05" cy="382.82" r="2.40"/><circle cx="660.62" cy="387.69" r="2.40"/><circle cx="664.18" cy="391.16" r="2.40"/><circle cx="667.75" cy="393.72" r="2.40"/><circle cx="671.31" cy="395.77" r="2.40"/><circle cx="674.87" cy="397.43" r="2.40"/><circle cx="678.44" cy="398.98" r="2.40"/><circle cx="682.00" cy="399.89" r="2.40"/></g>
<polyline fill="none" stroke="#0072BD" stroke-width="1.7" points="486.00,399.86 486.89,399.55 487.78,399.21 488.67,398.86 489.56,398.49 490.45,398.10 491.35,397.68 492.24,397.25 493.13,396.82 494.02,396.40 494.91,395.98 495.80,395.54 496.69,395.07 497.58,394.56 498.47,394.00 499.36,393.41 500.25,392.79 501.15,392.15 502.04,391.48 502.93,390.77 503.82,389.98 504.71,389.12 505.60,388.17 506.49,387.14 507.38,386.04 508.27,384.82 509.16,383.50 510.05,382.07 510.95,380.57 511.84,378.97 512.73,377.25 513.62,375.45 514.51,373.61 515.40,371.72 516.29,369.76 517.18,367.75 518.07,365.68 518.96,363.53 519.85,361.31 520.75,359.06 521.64,356.80 522.53,354.59 523.42,352.39 524.31,350.14 525.20,347.75 526.09,345.13 526.98,342.34 527.87,339.52 528.76,336.83 529.65,334.34 530.55,331.96 531.44,329.58 532.33,327.11 533.22,324.47 534.11,321.73 535.00,319.01 535.89,316.40 536.78,313.96 537.67,311.61 538.56,309.29 539.45,306.97 540.35,304.59 541.24,302.18 542.13,299.84 543.02,297.67 543.91,295.68 544.80,293.81 545.69,292.03 546.58,290.31 547.47,288.63 548.36,287.01 549.25,285.45 550.15,283.93 551.04,282.46 551.93,281.03 552.82,279.65 553.71,278.31 554.60,277.02 555.49,275.77 556.38,274.57 557.27,273.43 558.16,272.37 559.05,271.35 559.95,270.39 560.84,269.47 561.73,268.58 562.62,267.72 563.51,266.92 564.40,266.21 565.29,265.59 566.18,265.03 567.07,264.51 567.96,264.02 568.85,263.56 569.75,263.13 570.64,262.72 571.53,262.31 572.42,261.89 573.31,261.47 574.20,261.09 575.09,260.80 575.98,260.60 576.87,260.43 577.76,260.28 578.65,260.15 579.55,260.00 580.44,259.85 581.33,259.74 582.22,259.69 583.11,259.69 584.00,259.69 584.89,259.69 585.78,259.69 586.67,259.75 587.56,259.87 588.45,260.02 589.35,260.17 590.24,260.31 591.13,260.46 592.02,260.64 592.91,260.87 593.80,261.20 594.69,261.62 595.58,262.07 596.47,262.50 597.36,262.94 598.25,263.39 599.15,263.87 600.04,264.38 600.93,264.91 601.82,265.49 602.71,266.14 603.60,266.87 604.49,267.70 605.38,268.59 606.27,269.51 607.16,270.45 608.05,271.44 608.95,272.48 609.84,273.57 610.73,274.73 611.62,275.95 612.51,277.23 613.40,278.53 614.29,279.88 615.18,281.28 616.07,282.72 616.96,284.21 617.85,285.74 618.75,287.32 619.64,288.95 620.53,290.64 621.42,292.37 622.31,294.17 623.20,296.06 624.09,298.08 624.98,300.29 625.87,302.65 626.76,305.07 627.65,307.44 628.55,309.75 629.44,312.07 630.33,314.44 631.22,316.91 632.11,319.55 633.00,322.28 633.89,325.01 634.78,327.62 635.67,330.06 636.56,332.43 637.45,334.83 638.35,337.35 639.24,340.07 640.13,342.90 641.02,345.67 641.91,348.24 642.80,350.60 643.69,352.84 644.58,355.03 645.47,357.25 646.36,359.51 647.25,361.76 648.15,363.97 649.04,366.10 649.93,368.16 650.82,370.16 651.71,372.10 652.60,373.98 653.49,375.82 654.38,377.60 655.27,379.30 656.16,380.88 657.05,382.37 657.95,383.77 658.84,385.08 659.73,386.26 660.62,387.35 661.51,388.37 662.40,389.30 663.29,390.15 664.18,390.91 665.07,391.62 665.96,392.28 666.85,392.92 667.75,393.53 668.64,394.11 669.53,394.66 670.42,395.17 671.31,395.63 672.20,396.06 673.09,396.48 673.98,396.91 674.87,397.34 675.76,397.77 676.65,398.18 677.55,398.57 678.44,398.93 679.33,399.28 680.22,399.61 681.11,399.86 682.00,399.86"/>
<g fill="#D95319"><circle cx="486.00" cy="399.86" r="2.45"/><circle cx="489.56" cy="398.49" r="2.45"/><circle cx="493.13" cy="396.82" r="2.45"/><circle cx="496.69" cy="395.07" r="2.45"/><circle cx="500.25" cy="392.79" r="2.45"/><circle cx="503.82" cy="389.98" r="2.45"/><circle cx="507.38" cy="386.03" r="2.45"/><circle cx="510.95" cy="380.56" r="2.45"/><circle cx="514.51" cy="373.56" r="2.45"/><circle cx="518.07" cy="365.58" r="2.45"/><circle cx="521.64" cy="356.62" r="2.45"/><circle cx="525.20" cy="347.42" r="2.45"/><circle cx="528.76" cy="336.25" r="2.45"/><circle cx="532.33" cy="326.22" r="2.45"/><circle cx="535.89" cy="315.04" r="2.45"/><circle cx="539.45" cy="305.09" r="2.45"/><circle cx="543.02" cy="295.13" r="2.45"/><circle cx="546.58" cy="287.15" r="2.45"/><circle cx="550.15" cy="280.16" r="2.45"/><circle cx="553.71" cy="273.93" r="2.45"/><circle cx="557.27" cy="268.46" r="2.45"/><circle cx="560.84" cy="263.97" r="2.45"/><circle cx="564.40" cy="260.25" r="2.45"/><circle cx="567.96" cy="257.74" r="2.45"/><circle cx="571.53" cy="255.76" r="2.45"/><circle cx="575.09" cy="254.02" r="2.45"/><circle cx="578.65" cy="253.26" r="2.45"/><circle cx="582.22" cy="252.72" r="2.45"/><circle cx="585.78" cy="252.72" r="2.45"/><circle cx="589.35" cy="253.26" r="2.45"/><circle cx="592.91" cy="254.02" r="2.45"/><circle cx="596.47" cy="255.76" r="2.45"/><circle cx="600.04" cy="257.74" r="2.45"/><circle cx="603.60" cy="260.25" r="2.45"/><circle cx="607.16" cy="263.97" r="2.45"/><circle cx="610.73" cy="268.46" r="2.45"/><circle cx="614.29" cy="273.93" r="2.45"/><circle cx="617.85" cy="280.16" r="2.45"/><circle cx="621.42" cy="287.15" r="2.45"/><circle cx="624.98" cy="295.13" r="2.45"/><circle cx="628.55" cy="305.09" r="2.45"/><circle cx="632.11" cy="315.04" r="2.45"/><circle cx="635.67" cy="326.22" r="2.45"/><circle cx="639.24" cy="336.25" r="2.45"/><circle cx="642.80" cy="347.42" r="2.45"/><circle cx="646.36" cy="356.62" r="2.45"/><circle cx="649.93" cy="365.58" r="2.45"/><circle cx="653.49" cy="373.56" r="2.45"/><circle cx="657.05" cy="380.56" r="2.45"/><circle cx="660.62" cy="386.03" r="2.45"/><circle cx="664.18" cy="389.98" r="2.45"/><circle cx="667.75" cy="392.79" r="2.45"/><circle cx="671.31" cy="395.07" r="2.45"/><circle cx="674.87" cy="396.82" r="2.45"/><circle cx="678.44" cy="398.49" r="2.45"/><circle cx="682.00" cy="399.86" r="2.45"/></g>
<polyline fill="none" stroke="#D95319" stroke-width="1.7" points="486.00,399.86 486.89,399.55 487.78,399.21 488.67,398.86 489.56,398.49 490.45,398.10 491.35,397.68 492.24,397.25 493.13,396.82 494.02,396.40 494.91,395.98 495.80,395.54 496.69,395.07 497.58,394.56 498.47,394.00 499.36,393.41 500.25,392.79 501.15,392.15 502.04,391.48 502.93,390.77 503.82,389.98 504.71,389.12 505.60,388.17 506.49,387.14 507.38,386.03 508.27,384.82 509.16,383.50 510.05,382.07 510.95,380.57 511.84,378.97 512.73,377.25 513.62,375.45 514.51,373.60 515.40,371.71 516.29,369.75 517.18,367.74 518.07,365.66 518.96,363.52 519.85,361.29 520.75,359.03 521.64,356.78 522.53,354.56 523.42,352.36 524.31,350.09 525.20,347.70 526.09,345.08 526.98,342.27 527.87,339.44 528.76,336.74 529.65,334.24 530.55,331.85 531.44,329.46 532.33,326.98 533.22,324.32 534.11,321.57 535.00,318.82 535.89,316.20 536.78,313.74 537.67,311.37 538.56,309.03 539.45,306.69 540.35,304.28 541.24,301.85 542.13,299.49 543.02,297.29 543.91,295.28 544.80,293.39 545.69,291.59 546.58,289.84 547.47,288.14 548.36,286.50 549.25,284.91 550.15,283.37 551.04,281.87 551.93,280.42 552.82,279.02 553.71,277.66 554.60,276.35 555.49,275.07 556.38,273.85 557.27,272.69 558.16,271.61 559.05,270.57 559.95,269.59 560.84,268.65 561.73,267.74 562.62,266.86 563.51,266.05 564.40,265.32 565.29,264.69 566.18,264.12 567.07,263.59 567.96,263.09 568.85,262.62 569.75,262.17 570.64,261.75 571.53,261.34 572.42,260.91 573.31,260.48 574.20,260.09 575.09,259.79 575.98,259.58 576.87,259.41 577.76,259.26 578.65,259.12 579.55,258.97 580.44,258.82 581.33,258.70 582.22,258.66 583.11,258.66 584.00,258.66 584.89,258.66 585.78,258.66 586.67,258.70 587.56,258.82 588.45,258.97 589.35,259.12 590.24,259.26 591.13,259.41 592.02,259.58 592.91,259.79 593.80,260.09 594.69,260.48 595.58,260.91 596.47,261.34 597.36,261.75 598.25,262.17 599.15,262.62 600.04,263.09 600.93,263.59 601.82,264.12 602.71,264.69 603.60,265.32 604.49,266.05 605.38,266.86 606.27,267.74 607.16,268.65 608.05,269.59 608.95,270.57 609.84,271.61 610.73,272.69 611.62,273.85 612.51,275.07 613.40,276.35 614.29,277.66 615.18,279.02 616.07,280.42 616.96,281.87 617.85,283.37 618.75,284.91 619.64,286.50 620.53,288.14 621.42,289.84 622.31,291.59 623.20,293.39 624.09,295.28 624.98,297.29 625.87,299.49 626.76,301.85 627.65,304.28 628.55,306.69 629.44,309.03 630.33,311.37 631.22,313.74 632.11,316.20 633.00,318.82 633.89,321.57 634.78,324.32 635.67,326.98 636.56,329.46 637.45,331.85 638.35,334.24 639.24,336.74 640.13,339.44 641.02,342.27 641.91,345.08 642.80,347.70 643.69,350.09 644.58,352.36 645.47,354.56 646.36,356.78 647.25,359.03 648.15,361.29 649.04,363.52 649.93,365.66 650.82,367.74 651.71,369.75 652.60,371.71 653.49,373.60 654.38,375.45 655.27,377.25 656.16,378.97 657.05,380.57 657.95,382.07 658.84,383.50 659.73,384.82 660.62,386.03 661.51,387.14 662.40,388.17 663.29,389.12 664.18,389.98 665.07,390.77 665.96,391.48 666.85,392.15 667.75,392.79 668.64,393.41 669.53,394.00 670.42,394.56 671.31,395.07 672.20,395.54 673.09,395.98 673.98,396.40 674.87,396.82 675.76,397.25 676.65,397.68 677.55,398.10 678.44,398.49 679.33,398.86 680.22,399.21 681.11,399.55 682.00,399.86"/>
</g>
<text class="tk" x="483.40" y="404.20" text-anchor="end">0</text>
<text class="tk" x="483.40" y="366.20" text-anchor="end">5</text>
<text class="tk" x="483.40" y="328.20" text-anchor="end">10</text>
<text class="tk" x="483.40" y="290.20" text-anchor="end">15</text>
<text class="tk" x="483.40" y="252.20" text-anchor="end">20</text>
<text class="tk" x="522.85" y="242.70" textLength="122.3" lengthAdjust="spacingAndGlyphs"><tspan font-style="italic">ρ</tspan> = 35 mm; z=12.5 mm</text>
<text class="pl" x="495.63" y="267.36" font-size="13.9">(</text>
<text class="pl" x="502.24" y="268.45" font-size="15.4">f</text>
<text class="pl" x="508.99" y="267.36" font-size="13.9">)</text>
<path d="M39.00 427.00H235.00V579.00H39.00ZM95.00 579.00V576.50M95.00 427.00V429.50M151.00 579.00V576.50M151.00 427.00V429.50M207.00 579.00V576.50M207.00 427.00V429.50M39.00 541.00H41.50M235.00 541.00H232.50M39.00 503.00H41.50M235.00 503.00H232.50M39.00 465.00H41.50M235.00 465.00H232.50" fill="none" stroke="#262626" stroke-width="1.5" stroke-linecap="square"/>
<g clip-path="url(#cpg)">
<path d="M39.00 566.84V572.92M37.70 566.84H40.30M37.70 572.92H40.30M44.60 566.46V574.06M43.30 566.46H45.90M43.30 574.06H45.90M50.20 559.24V566.84M48.90 559.24H51.50M48.90 566.84H51.50M55.80 552.48V561.60M54.50 552.48H57.10M54.50 561.60H57.10M61.40 547.84V557.87M60.10 547.84H62.70M60.10 557.87H62.70M67.00 548.52V558.56M65.70 548.52H68.30M65.70 558.56H68.30M72.60 534.39V548.83M71.30 534.39H73.90M71.30 548.83H73.90M78.20 524.66V543.66M76.90 524.66H79.50M76.90 543.66H79.50M83.80 525.95V545.71M82.50 525.95H85.10M82.50 545.71H85.10M89.40 516.00V539.71M88.10 516.00H90.70M88.10 539.71H90.70M95.00 483.54V507.26M93.70 483.54H96.30M93.70 507.26H96.30M100.60 474.12V501.48M99.30 474.12H101.90M99.30 501.48H101.90M106.20 468.80V491.60M104.90 468.80H107.50M104.90 491.60H107.50M111.80 453.22V470.70M110.50 453.22H113.10M110.50 470.70H113.10M117.40 449.80V466.52M116.10 449.80H118.70M116.10 466.52H118.70M123.00 440.68V471.08M121.70 440.68H124.30M121.70 471.08H124.30M128.60 447.14V470.70M127.30 447.14H129.90M127.30 470.70H129.90M134.20 460.44V475.64M132.90 460.44H135.50M132.90 475.64H135.50M139.80 430.80V485.52M138.50 430.80H141.10M138.50 485.52H141.10M145.40 429.66V461.58M144.10 429.66H146.70M144.10 461.58H146.70M151.00 451.62V474.42M149.70 451.62H152.30M149.70 474.42H152.30M156.60 450.56V480.96M155.30 450.56H157.90M155.30 480.96H157.90M162.20 471.08V498.44M160.90 471.08H163.50M160.90 498.44H163.50M167.80 461.20V487.04M166.50 461.20H169.10M166.50 487.04H169.10M173.40 498.59V513.79M172.10 498.59H174.70M172.10 513.79H174.70M179.00 493.50V527.70M177.70 493.50H180.30M177.70 527.70H180.30M184.60 512.12V528.84M183.30 512.12H185.90M183.30 528.84H185.90M190.20 515.16V534.16M188.90 515.16H191.50M188.90 534.16H191.50M195.80 518.96V540.24M194.50 518.96H197.10M194.50 540.24H197.10M201.40 531.58V541.61M200.10 531.58H202.70M200.10 541.61H202.70M207.00 540.24V556.96M205.70 540.24H208.30M205.70 556.96H208.30M212.60 550.27V559.09M211.30 550.27H213.90M211.30 559.09H213.90M218.20 543.51V558.71M216.90 543.51H219.50M216.90 558.71H219.50M223.80 559.70V570.94M222.50 559.70H225.10M222.50 570.94H225.10M229.40 565.47V571.55M228.10 565.47H230.70M228.10 571.55H230.70M235.00 568.74V573.30M233.70 568.74H236.30M233.70 573.30H236.30" stroke="#000" stroke-width="1.2" fill="none"/>
<g fill="#000"><circle cx="39.00" cy="569.88" r="2.30"/><circle cx="44.60" cy="570.26" r="2.30"/><circle cx="50.20" cy="563.04" r="2.30"/><circle cx="55.80" cy="557.04" r="2.30"/><circle cx="61.40" cy="552.86" r="2.30"/><circle cx="67.00" cy="553.54" r="2.30"/><circle cx="72.60" cy="541.61" r="2.30"/><circle cx="78.20" cy="534.16" r="2.30"/><circle cx="83.80" cy="535.83" r="2.30"/><circle cx="89.40" cy="527.85" r="2.30"/><circle cx="95.00" cy="495.40" r="2.30"/><circle cx="100.60" cy="487.80" r="2.30"/><circle cx="106.20" cy="480.20" r="2.30"/><circle cx="111.80" cy="461.96" r="2.30"/><circle cx="117.40" cy="458.16" r="2.30"/><circle cx="123.00" cy="455.88" r="2.30"/><circle cx="128.60" cy="458.92" r="2.30"/><circle cx="134.20" cy="468.04" r="2.30"/><circle cx="139.80" cy="458.16" r="2.30"/><circle cx="145.40" cy="445.62" r="2.30"/><circle cx="151.00" cy="463.02" r="2.30"/><circle cx="156.60" cy="465.76" r="2.30"/><circle cx="162.20" cy="484.76" r="2.30"/><circle cx="167.80" cy="474.12" r="2.30"/><circle cx="173.40" cy="506.19" r="2.30"/><circle cx="179.00" cy="510.60" r="2.30"/><circle cx="184.60" cy="520.48" r="2.30"/><circle cx="190.20" cy="524.66" r="2.30"/><circle cx="195.80" cy="529.60" r="2.30"/><circle cx="201.40" cy="536.59" r="2.30"/><circle cx="207.00" cy="548.60" r="2.30"/><circle cx="212.60" cy="554.68" r="2.30"/><circle cx="218.20" cy="551.11" r="2.30"/><circle cx="223.80" cy="565.32" r="2.30"/><circle cx="229.40" cy="568.51" r="2.30"/><circle cx="235.00" cy="571.02" r="2.30"/></g>
<g fill="#0072BD"><circle cx="39.00" cy="569.61" r="2.40"/><circle cx="44.60" cy="568.22" r="2.40"/><circle cx="50.20" cy="565.43" r="2.40"/><circle cx="55.80" cy="561.62" r="2.40"/><circle cx="61.40" cy="556.04" r="2.40"/><circle cx="67.00" cy="549.74" r="2.40"/><circle cx="72.60" cy="542.84" r="2.40"/><circle cx="78.20" cy="534.56" r="2.40"/><circle cx="83.80" cy="525.68" r="2.40"/><circle cx="89.40" cy="515.19" r="2.40"/><circle cx="95.00" cy="504.71" r="2.40"/><circle cx="100.60" cy="493.63" r="2.40"/><circle cx="106.20" cy="483.43" r="2.40"/><circle cx="111.80" cy="473.16" r="2.40"/><circle cx="117.40" cy="464.86" r="2.40"/><circle cx="123.00" cy="457.73" r="2.40"/><circle cx="128.60" cy="452.15" r="2.40"/><circle cx="134.20" cy="450.29" r="2.40"/><circle cx="139.80" cy="450.30" r="2.40"/><circle cx="145.40" cy="452.53" r="2.40"/><circle cx="151.00" cy="458.66" r="2.40"/><circle cx="156.60" cy="466.18" r="2.40"/><circle cx="162.20" cy="474.93" r="2.40"/><circle cx="167.80" cy="485.40" r="2.40"/><circle cx="173.40" cy="495.76" r="2.40"/><circle cx="179.00" cy="506.83" r="2.40"/><circle cx="184.60" cy="517.31" r="2.40"/><circle cx="190.20" cy="527.56" r="2.40"/><circle cx="195.80" cy="536.27" r="2.40"/><circle cx="201.40" cy="544.31" r="2.40"/><circle cx="207.00" cy="551.05" r="2.40"/><circle cx="212.60" cy="557.24" r="2.40"/><circle cx="218.20" cy="562.49" r="2.40"/><circle cx="223.80" cy="566.07" r="2.40"/><circle cx="229.40" cy="568.58" r="2.40"/><circle cx="235.00" cy="569.61" r="2.40"/></g>
<polyline fill="none" stroke="#0072BD" stroke-width="1.7" points="39.00,569.28 40.40,569.28 41.80,569.28 43.20,569.04 44.60,568.70 46.00,568.28 47.40,567.80 48.80,567.20 50.20,566.47 51.60,565.64 53.00,564.79 54.40,563.88 55.80,562.90 57.20,561.82 58.60,560.64 60.00,559.27 61.40,557.76 62.80,556.19 64.20,554.61 65.60,552.99 67.00,551.33 68.40,549.62 69.80,547.89 71.20,546.15 72.60,544.36 74.00,542.49 75.40,540.50 76.80,538.39 78.20,536.20 79.60,533.99 81.00,531.78 82.40,529.57 83.80,527.31 85.20,524.95 86.60,522.45 88.00,519.81 89.40,517.12 90.80,514.48 92.20,511.91 93.60,509.37 95.00,506.82 96.40,504.25 97.80,501.61 99.20,498.95 100.60,496.33 102.00,493.83 103.40,491.45 104.80,489.15 106.20,486.88 107.60,484.60 109.00,482.27 110.40,479.97 111.80,477.79 113.20,475.82 114.60,474.00 116.00,472.29 117.40,470.66 118.80,469.10 120.20,467.60 121.60,466.17 123.00,464.85 124.40,463.59 125.80,462.33 127.20,461.22 128.60,460.42 130.00,459.88 131.40,459.41 132.80,459.07 134.20,458.96 135.60,458.96 137.00,458.96 138.40,458.96 139.80,458.97 141.20,459.17 142.60,459.58 144.00,460.09 145.40,460.72 146.80,461.71 148.20,462.95 149.60,464.27 151.00,465.58 152.40,467.00 153.80,468.52 155.20,470.10 156.60,471.73 158.00,473.44 159.40,475.26 160.80,477.20 162.20,479.35 163.60,481.64 165.00,484.00 166.40,486.31 167.80,488.59 169.20,490.89 170.60,493.25 172.00,495.73 173.40,498.33 174.80,500.99 176.20,503.65 177.60,506.23 179.00,508.79 180.40,511.33 181.80,513.89 183.20,516.52 184.60,519.20 186.00,521.86 187.40,524.41 188.80,526.79 190.20,529.07 191.60,531.29 193.00,533.49 194.40,535.71 195.80,537.90 197.20,540.04 198.60,542.05 200.00,543.95 201.40,545.75 202.80,547.50 204.20,549.24 205.60,550.95 207.00,552.63 208.40,554.26 209.80,555.84 211.20,557.41 212.60,558.94 214.00,560.35 215.40,561.57 216.80,562.67 218.20,563.67 219.60,564.59 221.00,565.45 222.40,566.29 223.80,567.05 225.20,567.68 226.60,568.17 228.00,568.61 229.40,568.97 230.80,569.24 232.20,569.28 233.60,569.28 235.00,569.28"/>
<g fill="#D95319"><circle cx="39.00" cy="569.27" r="2.45"/><circle cx="44.60" cy="567.83" r="2.45"/><circle cx="50.20" cy="564.94" r="2.45"/><circle cx="55.80" cy="560.99" r="2.45"/><circle cx="61.40" cy="555.21" r="2.45"/><circle cx="67.00" cy="548.68" r="2.45"/><circle cx="72.60" cy="541.53" r="2.45"/><circle cx="78.20" cy="532.94" r="2.45"/><circle cx="83.80" cy="523.75" r="2.45"/><circle cx="89.40" cy="512.88" r="2.45"/><circle cx="95.00" cy="502.01" r="2.45"/><circle cx="100.60" cy="490.54" r="2.45"/><circle cx="106.20" cy="479.97" r="2.45"/><circle cx="111.80" cy="469.33" r="2.45"/><circle cx="117.40" cy="460.74" r="2.45"/><circle cx="123.00" cy="453.37" r="2.45"/><circle cx="128.60" cy="447.60" r="2.45"/><circle cx="134.20" cy="445.62" r="2.45"/><circle cx="139.80" cy="445.62" r="2.45"/><circle cx="145.40" cy="447.60" r="2.45"/><circle cx="151.00" cy="453.37" r="2.45"/><circle cx="156.60" cy="460.74" r="2.45"/><circle cx="162.20" cy="469.33" r="2.45"/><circle cx="167.80" cy="479.97" r="2.45"/><circle cx="173.40" cy="490.54" r="2.45"/><circle cx="179.00" cy="502.01" r="2.45"/><circle cx="184.60" cy="512.88" r="2.45"/><circle cx="190.20" cy="523.75" r="2.45"/><circle cx="195.80" cy="532.94" r="2.45"/><circle cx="201.40" cy="541.53" r="2.45"/><circle cx="207.00" cy="548.68" r="2.45"/><circle cx="212.60" cy="555.21" r="2.45"/><circle cx="218.20" cy="560.99" r="2.45"/><circle cx="223.80" cy="564.94" r="2.45"/><circle cx="229.40" cy="567.83" r="2.45"/><circle cx="235.00" cy="569.27" r="2.45"/></g>
<polyline fill="none" stroke="#D95319" stroke-width="1.7" points="39.00,569.28 40.40,569.21 41.80,568.94 43.20,568.58 44.60,568.14 46.00,567.65 47.40,567.03 48.80,566.28 50.20,565.47 51.60,564.62 53.00,563.72 54.40,562.74 55.80,561.67 57.20,560.48 58.60,559.12 60.00,557.63 61.40,556.09 62.80,554.53 64.20,552.94 65.60,551.29 67.00,549.61 68.40,547.91 69.80,546.19 71.20,544.42 72.60,542.58 74.00,540.63 75.40,538.55 76.80,536.39 78.20,534.19 79.60,531.99 81.00,529.80 82.40,527.55 83.80,525.22 85.20,522.76 86.60,520.13 88.00,517.44 89.40,514.74 90.80,512.12 92.20,509.54 93.60,506.95 95.00,504.34 96.40,501.66 97.80,498.93 99.20,496.19 100.60,493.53 102.00,491.00 103.40,488.56 104.80,486.16 106.20,483.77 107.60,481.33 109.00,478.85 110.40,476.43 111.80,474.16 113.20,472.09 114.60,470.16 116.00,468.32 117.40,466.56 118.80,464.86 120.20,463.21 121.60,461.65 123.00,460.20 124.40,458.78 125.80,457.38 127.20,456.16 128.60,455.29 130.00,454.68 131.40,454.15 132.80,453.77 134.20,453.62 135.60,453.62 137.00,453.62 138.40,453.62 139.80,453.62 141.20,453.77 142.60,454.15 144.00,454.68 145.40,455.29 146.80,456.16 148.20,457.38 149.60,458.78 151.00,460.20 152.40,461.65 153.80,463.21 155.20,464.86 156.60,466.56 158.00,468.32 159.40,470.16 160.80,472.09 162.20,474.16 163.60,476.43 165.00,478.85 166.40,481.33 167.80,483.77 169.20,486.16 170.60,488.56 172.00,491.00 173.40,493.53 174.80,496.19 176.20,498.93 177.60,501.66 179.00,504.34 180.40,506.95 181.80,509.54 183.20,512.12 184.60,514.74 186.00,517.44 187.40,520.13 188.80,522.76 190.20,525.22 191.60,527.55 193.00,529.80 194.40,531.99 195.80,534.19 197.20,536.39 198.60,538.55 200.00,540.63 201.40,542.58 202.80,544.42 204.20,546.19 205.60,547.91 207.00,549.61 208.40,551.29 209.80,552.94 211.20,554.53 212.60,556.09 214.00,557.63 215.40,559.12 216.80,560.48 218.20,561.67 219.60,562.74 221.00,563.72 222.40,564.62 223.80,565.47 225.20,566.28 226.60,567.03 228.00,567.65 229.40,568.14 230.80,568.58 232.20,568.94 233.60,569.21 235.00,569.28"/>
</g>
<text class="tk" x="36.40" y="582.20" text-anchor="end">0</text>
<text class="tk" x="36.40" y="544.20" text-anchor="end">0.05</text>
<text class="tk" x="36.40" y="506.20" text-anchor="end">0.1</text>
<text class="tk" x="36.40" y="468.20" text-anchor="end">0.15</text>
<text class="tk" x="36.40" y="430.20" text-anchor="end">0.2</text>
<text class="tk" x="28.50" y="592.20" textLength="20.3" lengthAdjust="spacingAndGlyphs">−10</text>
<text class="tk" x="95.00" y="592.20" text-anchor="middle">0</text>
<text class="tk" x="151.00" y="592.20" text-anchor="middle">10</text>
<text class="tk" x="207.00" y="592.20" text-anchor="middle">20</text>
<text class="tk" x="117.40" y="606.30" textLength="38.6" lengthAdjust="spacingAndGlyphs"><tspan font-style="italic">x</tspan> (mm)</text>
<text class="tk" x="75.85" y="420.70" textLength="122.3" lengthAdjust="spacingAndGlyphs"><tspan font-style="italic">ρ</tspan> = 15 mm; z=20.5 mm</text>
<text class="pl" x="47.63" y="450.06" font-size="13.9">(</text>
<text class="pl" x="53.97" y="451.15" font-size="15.4">g</text>
<text class="pl" x="65.00" y="450.06" font-size="13.9">)</text>
<path d="M262.75 427.00H458.25V579.00H262.75ZM306.19 579.00V576.50M306.19 427.00V429.50M349.64 579.00V576.50M349.64 427.00V429.50M393.08 579.00V576.50M393.08 427.00V429.50M436.53 579.00V576.50M436.53 427.00V429.50M262.75 548.60H265.25M458.25 548.60H455.75M262.75 518.20H265.25M458.25 518.20H455.75M262.75 487.80H265.25M458.25 487.80H455.75M262.75 457.40H265.25M458.25 457.40H455.75" fill="none" stroke="#262626" stroke-width="1.5" stroke-linecap="square"/>
<g clip-path="url(#cph)">
<path d="M319.23 501.35V507.69M317.93 501.35H320.53M317.93 507.69H320.53M323.57 491.22V496.54M322.27 491.22H324.87M322.27 496.54H324.87M327.92 480.84V485.64M326.62 480.84H329.22M326.62 485.64H329.22M332.26 470.92V477.32M330.96 470.92H333.56M330.96 477.32H333.56M336.61 459.76V470.24M335.31 459.76H337.91M335.31 470.24H337.91M340.95 454.60V460.20M339.65 454.60H342.25M339.65 460.20H342.25M345.29 445.32V455.80M343.99 445.32H346.59M343.99 455.80H346.59M349.64 442.34V448.14M348.34 442.34H350.94M348.34 448.14H350.94M353.98 442.36V452.38M352.68 442.36H355.28M352.68 452.38H355.28M358.33 441.28V451.63M357.03 441.28H359.63M357.03 451.63H359.63M362.67 443.19V453.07M361.37 443.19H363.97M361.37 453.07H363.97M367.02 450.66V460.80M365.72 450.66H368.32M365.72 460.80H368.32M371.36 455.14V466.04M370.06 455.14H372.66M370.06 466.04H372.66M375.71 456.94V464.25M374.41 456.94H377.01M374.41 464.25H377.01M380.05 465.16V470.92M378.75 465.16H381.35M378.75 470.92H381.35M384.39 473.12V478.16M383.09 473.12H385.69M383.09 478.16H385.69M388.74 470.00V475.20M387.44 470.00H390.04M387.44 475.20H390.04M393.08 483.63V489.84M391.78 483.63H394.38M391.78 489.84H394.38" stroke="#000" stroke-width="1.2" fill="none"/>
<g fill="#000"><circle cx="262.75" cy="575.17" r="2.30"/><circle cx="267.09" cy="573.56" r="2.30"/><circle cx="271.44" cy="571.19" r="2.30"/><circle cx="275.78" cy="569.02" r="2.30"/><circle cx="280.13" cy="566.51" r="2.30"/><circle cx="284.47" cy="562.22" r="2.30"/><circle cx="288.82" cy="558.70" r="2.30"/><circle cx="293.16" cy="553.17" r="2.30"/><circle cx="297.51" cy="549.36" r="2.30"/><circle cx="301.85" cy="535.38" r="2.30"/><circle cx="306.19" cy="532.26" r="2.30"/><circle cx="310.54" cy="522.69" r="2.30"/><circle cx="314.88" cy="513.51" r="2.30"/><circle cx="319.23" cy="504.52" r="2.30"/><circle cx="323.57" cy="493.88" r="2.30"/><circle cx="327.92" cy="483.24" r="2.30"/><circle cx="332.26" cy="474.12" r="2.30"/><circle cx="336.61" cy="465.00" r="2.30"/><circle cx="340.95" cy="457.40" r="2.30"/><circle cx="345.29" cy="450.56" r="2.30"/><circle cx="349.64" cy="445.24" r="2.30"/><circle cx="353.98" cy="447.37" r="2.30"/><circle cx="358.33" cy="446.46" r="2.30"/><circle cx="362.67" cy="448.13" r="2.30"/><circle cx="367.02" cy="455.73" r="2.30"/><circle cx="371.36" cy="460.59" r="2.30"/><circle cx="375.71" cy="460.59" r="2.30"/><circle cx="380.05" cy="468.04" r="2.30"/><circle cx="384.39" cy="475.64" r="2.30"/><circle cx="388.74" cy="472.60" r="2.30"/><circle cx="393.08" cy="486.74" r="2.30"/><circle cx="397.43" cy="500.57" r="2.30"/><circle cx="401.77" cy="501.78" r="2.30"/><circle cx="406.12" cy="509.23" r="2.30"/><circle cx="410.46" cy="525.50" r="2.30"/><circle cx="414.81" cy="536.59" r="2.30"/><circle cx="419.15" cy="541.61" r="2.30"/><circle cx="423.49" cy="547.84" r="2.30"/><circle cx="427.84" cy="552.90" r="2.30"/><circle cx="432.18" cy="557.68" r="2.30"/><circle cx="436.53" cy="562.84" r="2.30"/><circle cx="440.87" cy="566.66" r="2.30"/><circle cx="445.22" cy="568.95" r="2.30"/><circle cx="449.56" cy="571.50" r="2.30"/><circle cx="453.91" cy="573.50" r="2.30"/><circle cx="458.25" cy="575.10" r="2.30"/></g>
<g fill="#0072BD"><circle cx="262.75" cy="575.31" r="2.40"/><circle cx="267.09" cy="573.68" r="2.40"/><circle cx="271.44" cy="571.76" r="2.40"/><circle cx="275.78" cy="569.25" r="2.40"/><circle cx="280.13" cy="566.88" r="2.40"/><circle cx="284.47" cy="563.19" r="2.40"/><circle cx="288.82" cy="558.91" r="2.40"/><circle cx="293.16" cy="553.59" r="2.40"/><circle cx="297.51" cy="547.53" r="2.40"/><circle cx="301.85" cy="540.73" r="2.40"/><circle cx="306.19" cy="532.46" r="2.40"/><circle cx="310.54" cy="524.04" r="2.40"/><circle cx="314.88" cy="514.88" r="2.40"/><circle cx="319.23" cy="505.13" r="2.40"/><circle cx="323.57" cy="494.79" r="2.40"/><circle cx="327.92" cy="484.59" r="2.40"/><circle cx="332.26" cy="474.84" r="2.40"/><circle cx="336.61" cy="466.42" r="2.40"/><circle cx="340.95" cy="457.85" r="2.40"/><circle cx="345.29" cy="451.05" r="2.40"/><circle cx="349.64" cy="445.73" r="2.40"/><circle cx="353.98" cy="442.18" r="2.40"/><circle cx="358.33" cy="440.42" r="2.40"/><circle cx="362.67" cy="440.42" r="2.40"/><circle cx="367.02" cy="442.24" r="2.40"/><circle cx="371.36" cy="445.93" r="2.40"/><circle cx="375.71" cy="451.53" r="2.40"/><circle cx="380.05" cy="458.79" r="2.40"/><circle cx="384.39" cy="467.72" r="2.40"/><circle cx="388.74" cy="476.48" r="2.40"/><circle cx="393.08" cy="486.50" r="2.40"/><circle cx="397.43" cy="496.81" r="2.40"/><circle cx="401.77" cy="507.10" r="2.40"/><circle cx="406.12" cy="516.75" r="2.40"/><circle cx="410.46" cy="525.77" r="2.40"/><circle cx="414.81" cy="534.15" r="2.40"/><circle cx="419.15" cy="542.19" r="2.40"/><circle cx="423.49" cy="548.80" r="2.40"/><circle cx="427.84" cy="554.71" r="2.40"/><circle cx="432.18" cy="559.83" r="2.40"/><circle cx="436.53" cy="563.99" r="2.40"/><circle cx="440.87" cy="567.42" r="2.40"/><circle cx="445.22" cy="569.75" r="2.40"/><circle cx="449.56" cy="572.18" r="2.40"/><circle cx="453.91" cy="574.03" r="2.40"/><circle cx="458.25" cy="575.31" r="2.40"/></g>
<polyline fill="none" stroke="#0072BD" stroke-width="1.7" points="262.75,575.20 263.84,575.20 264.92,575.20 266.01,575.12 267.09,574.71 268.18,574.28 269.27,573.84 270.35,573.37 271.44,572.89 272.52,572.39 273.61,571.86 274.70,571.28 275.78,570.63 276.87,569.93 277.96,569.25 279.04,568.61 280.13,568.02 281.21,567.43 282.30,566.76 283.39,565.96 284.47,565.02 285.56,563.99 286.64,562.93 287.73,561.87 288.82,560.78 289.90,559.63 290.99,558.42 292.07,557.12 293.16,555.73 294.25,554.29 295.33,552.80 296.42,551.28 297.51,549.70 298.59,548.07 299.68,546.41 300.76,544.71 301.85,542.96 302.94,541.14 304.02,539.20 305.11,537.12 306.19,534.93 307.28,532.71 308.37,530.54 309.45,528.39 310.54,526.24 311.62,524.05 312.71,521.80 313.80,519.49 314.88,517.15 315.97,514.77 317.06,512.37 318.14,509.94 319.23,507.48 320.31,505.00 321.40,502.48 322.49,499.91 323.57,497.34 324.66,494.80 325.74,492.30 326.83,489.81 327.92,487.36 329.00,484.95 330.09,482.57 331.18,480.22 332.26,477.94 333.35,475.79 334.43,473.79 335.52,471.87 336.61,469.98 337.69,468.06 338.78,466.06 339.86,464.08 340.95,462.19 342.04,460.48 343.12,458.89 344.21,457.40 345.29,456.02 346.38,454.72 347.47,453.48 348.55,452.34 349.64,451.31 350.73,450.41 351.81,449.57 352.90,448.82 353.98,448.22 355.07,447.70 356.16,447.22 357.24,446.84 358.33,446.69 359.41,446.69 360.50,446.69 361.59,446.69 362.67,446.69 363.76,446.86 364.84,447.25 365.93,447.75 367.02,448.27 368.10,448.90 369.19,449.67 370.27,450.54 371.36,451.48 372.45,452.56 373.53,453.77 374.62,455.07 375.71,456.43 376.79,457.91 377.88,459.50 378.96,461.19 380.05,463.05 381.14,465.07 382.22,467.15 383.31,469.17 384.39,471.12 385.48,473.07 386.57,475.08 387.65,477.22 388.74,479.50 389.82,481.87 390.91,484.28 392.00,486.69 393.08,489.16 394.17,491.65 395.26,494.17 396.34,496.71 397.43,499.29 398.51,501.87 399.60,504.41 400.69,506.90 401.77,509.37 402.86,511.81 403.94,514.22 405.03,516.60 406.12,518.96 407.20,521.28 408.29,523.54 409.38,525.75 410.46,527.91 411.55,530.05 412.63,532.21 413.72,534.43 414.81,536.63 415.89,538.75 416.98,540.71 418.06,542.56 419.15,544.32 420.24,546.03 421.32,547.70 422.41,549.34 423.49,550.93 424.58,552.47 425.67,553.96 426.75,555.41 427.84,556.81 428.92,558.13 430.01,559.36 431.10,560.52 432.18,561.63 433.27,562.69 434.36,563.75 435.44,564.79 436.53,565.76 437.61,566.60 438.70,567.29 439.79,567.89 440.87,568.47 441.96,569.10 443.04,569.78 444.13,570.47 445.22,571.14 446.30,571.73 447.39,572.28 448.48,572.78 449.56,573.27 450.65,573.73 451.73,574.18 452.82,574.62 453.91,575.03 454.99,575.20 456.08,575.20 457.16,575.20 458.25,575.20"/>
<g fill="#D95319"><circle cx="262.75" cy="575.20" r="2.45"/><circle cx="267.09" cy="573.53" r="2.45"/><circle cx="271.44" cy="571.55" r="2.45"/><circle cx="275.78" cy="568.97" r="2.45"/><circle cx="280.13" cy="566.54" r="2.45"/><circle cx="284.47" cy="562.74" r="2.45"/><circle cx="288.82" cy="558.33" r="2.45"/><circle cx="293.16" cy="552.86" r="2.45"/><circle cx="297.51" cy="546.62" r="2.45"/><circle cx="301.85" cy="539.63" r="2.45"/><circle cx="306.19" cy="531.12" r="2.45"/><circle cx="310.54" cy="522.46" r="2.45"/><circle cx="314.88" cy="513.03" r="2.45"/><circle cx="319.23" cy="503.00" r="2.45"/><circle cx="323.57" cy="492.36" r="2.45"/><circle cx="327.92" cy="481.87" r="2.45"/><circle cx="332.26" cy="471.84" r="2.45"/><circle cx="336.61" cy="463.18" r="2.45"/><circle cx="340.95" cy="454.36" r="2.45"/><circle cx="345.29" cy="447.37" r="2.45"/><circle cx="349.64" cy="441.90" r="2.45"/><circle cx="353.98" cy="438.25" r="2.45"/><circle cx="358.33" cy="436.42" r="2.45"/><circle cx="362.67" cy="436.42" r="2.45"/><circle cx="367.02" cy="438.25" r="2.45"/><circle cx="371.36" cy="441.90" r="2.45"/><circle cx="375.71" cy="447.37" r="2.45"/><circle cx="380.05" cy="454.36" r="2.45"/><circle cx="384.39" cy="463.18" r="2.45"/><circle cx="388.74" cy="471.84" r="2.45"/><circle cx="393.08" cy="481.87" r="2.45"/><circle cx="397.43" cy="492.36" r="2.45"/><circle cx="401.77" cy="503.00" r="2.45"/><circle cx="406.12" cy="513.03" r="2.45"/><circle cx="410.46" cy="522.46" r="2.45"/><circle cx="414.81" cy="531.12" r="2.45"/><circle cx="419.15" cy="539.63" r="2.45"/><circle cx="423.49" cy="546.62" r="2.45"/><circle cx="427.84" cy="552.86" r="2.45"/><circle cx="432.18" cy="558.33" r="2.45"/><circle cx="436.53" cy="562.74" r="2.45"/><circle cx="440.87" cy="566.54" r="2.45"/><circle cx="445.22" cy="568.97" r="2.45"/><circle cx="449.56" cy="571.55" r="2.45"/><circle cx="453.91" cy="573.53" r="2.45"/><circle cx="458.25" cy="575.20" r="2.45"/></g>
<polyline fill="none" stroke="#D95319" stroke-width="1.7" points="262.75,575.20 263.84,575.20 264.92,574.83 266.01,574.42 267.09,573.99 268.18,573.54 269.27,573.07 270.35,572.59 271.44,572.08 272.52,571.54 273.61,570.93 274.70,570.26 275.78,569.58 276.87,568.92 277.96,568.33 279.04,567.76 280.13,567.15 281.21,566.45 282.30,565.60 283.39,564.64 284.47,563.61 285.56,562.57 286.64,561.52 287.73,560.43 288.82,559.29 289.90,558.08 290.99,556.78 292.07,555.40 293.16,553.97 294.25,552.51 295.33,551.00 296.42,549.44 297.51,547.83 298.59,546.18 299.68,544.51 300.76,542.78 301.85,540.98 302.94,539.07 304.02,537.01 305.11,534.84 306.19,532.65 307.28,530.51 308.37,528.38 309.45,526.25 310.54,524.08 311.62,521.85 312.71,519.57 313.80,517.24 314.88,514.88 315.97,512.49 317.06,510.08 318.14,507.62 319.23,505.14 320.31,502.63 321.40,500.06 322.49,497.47 323.57,494.89 324.66,492.35 325.74,489.83 326.83,487.32 327.92,484.86 329.00,482.43 330.09,480.00 331.18,477.63 332.26,475.36 333.35,473.22 334.43,471.21 335.52,469.25 336.61,467.29 337.69,465.26 338.78,463.17 339.86,461.13 340.95,459.22 342.04,457.48 343.12,455.84 344.21,454.31 345.29,452.87 346.38,451.52 347.47,450.23 348.55,449.03 349.64,447.97 350.73,447.02 351.81,446.14 352.90,445.36 353.98,444.73 355.07,444.19 356.16,443.67 357.24,443.28 358.33,443.13 359.41,443.13 360.50,443.13 361.59,443.13 362.67,443.13 363.76,443.28 364.84,443.67 365.93,444.19 367.02,444.73 368.10,445.36 369.19,446.14 370.27,447.02 371.36,447.97 372.45,449.03 373.53,450.23 374.62,451.52 375.71,452.87 376.79,454.31 377.88,455.84 378.96,457.48 380.05,459.22 381.14,461.13 382.22,463.17 383.31,465.26 384.39,467.29 385.48,469.25 386.57,471.21 387.65,473.22 388.74,475.36 389.82,477.63 390.91,480.00 392.00,482.43 393.08,484.86 394.17,487.32 395.26,489.83 396.34,492.35 397.43,494.89 398.51,497.47 399.60,500.06 400.69,502.63 401.77,505.14 402.86,507.62 403.94,510.08 405.03,512.49 406.12,514.88 407.20,517.24 408.29,519.57 409.38,521.85 410.46,524.08 411.55,526.25 412.63,528.38 413.72,530.51 414.81,532.65 415.89,534.84 416.98,537.01 418.06,539.07 419.15,540.98 420.24,542.78 421.32,544.51 422.41,546.18 423.49,547.83 424.58,549.44 425.67,551.00 426.75,552.51 427.84,553.97 428.92,555.40 430.01,556.78 431.10,558.08 432.18,559.29 433.27,560.43 434.36,561.52 435.44,562.57 436.53,563.61 437.61,564.64 438.70,565.60 439.79,566.45 440.87,567.15 441.96,567.76 443.04,568.33 444.13,568.92 445.22,569.58 446.30,570.26 447.39,570.93 448.48,571.54 449.56,572.08 450.65,572.59 451.73,573.07 452.82,573.54 453.91,573.99 454.99,574.42 456.08,574.83 457.16,575.20 458.25,575.20"/>
</g>
<text class="tk" x="260.15" y="582.20" text-anchor="end">0</text>
<text class="tk" x="260.15" y="551.80" text-anchor="end">0.2</text>
<text class="tk" x="260.15" y="521.40" text-anchor="end">0.4</text>
<text class="tk" x="260.15" y="491.00" text-anchor="end">0.6</text>
<text class="tk" x="260.15" y="460.60" text-anchor="end">0.8</text>
<text class="tk" x="260.15" y="430.20" text-anchor="end">1</text>
<text class="tk" x="252.25" y="592.20" textLength="20.3" lengthAdjust="spacingAndGlyphs">−10</text>
<text class="tk" x="306.19" y="592.20" text-anchor="middle">0</text>
<text class="tk" x="349.64" y="592.20" text-anchor="middle">10</text>
<text class="tk" x="393.08" y="592.20" text-anchor="middle">20</text>
<text class="tk" x="436.53" y="592.20" text-anchor="middle">30</text>
<text class="tk" x="340.90" y="606.30" textLength="38.6" lengthAdjust="spacingAndGlyphs"><tspan font-style="italic">x</tspan> (mm)</text>
<text class="tk" x="299.35" y="420.70" textLength="122.3" lengthAdjust="spacingAndGlyphs"><tspan font-style="italic">ρ</tspan> = 25 mm; z=20.5 mm</text>
<text class="pl" x="271.58" y="450.06" font-size="13.9">(</text>
<text class="pl" x="277.95" y="451.15" font-size="15.4">h</text>
<text class="pl" x="288.90" y="450.06" font-size="13.9">)</text>
<path d="M486.00 427.00H682.00V579.00H486.00ZM521.64 579.00V576.50M521.64 427.00V429.50M592.91 579.00V576.50M592.91 427.00V429.50M664.18 579.00V576.50M664.18 427.00V429.50M486.00 528.33H488.50M682.00 528.33H679.50M486.00 477.67H488.50M682.00 477.67H679.50" fill="none" stroke="#262626" stroke-width="1.5" stroke-linecap="square"/>
<g clip-path="url(#cpi)">
<path d="M543.02 514.28V519.08M541.72 514.28H544.32M541.72 519.08H544.32M546.58 507.77V512.42M545.28 507.77H547.88M545.28 512.42H547.88M550.15 501.64V506.39M548.85 501.64H551.45M548.85 506.39H551.45M557.27 487.30V492.35M555.97 487.30H558.57M555.97 492.35H558.57M571.53 475.57V479.77M570.23 475.57H572.83M570.23 479.77H572.83M575.09 469.79V478.45M573.79 469.79H576.39M573.79 478.45H576.39M578.65 471.63V477.63M577.35 471.63H579.95M577.35 477.63H579.95M585.78 472.97V477.29M584.48 472.97H587.08M584.48 477.29H587.08M589.35 475.13V481.22M588.05 475.13H590.65M588.05 481.22H590.65M592.91 475.96V483.43M591.61 475.96H594.21M591.61 483.43H594.21M596.47 481.76V486.75M595.17 481.76H597.77M595.17 486.75H597.77M600.04 486.13V491.50M598.74 486.13H601.34M598.74 491.50H601.34M603.60 491.31V496.45M602.30 491.31H604.90M602.30 496.45H604.90M607.16 495.93V501.97M605.86 495.93H608.46M605.86 501.97H608.46M610.73 500.71V506.30M609.43 500.71H612.03M609.43 506.30H612.03M614.29 506.77V511.39M612.99 506.77H615.59M612.99 511.39H615.59" stroke="#000" stroke-width="1.2" fill="none"/>
<g fill="#000"><circle cx="486.00" cy="576.69" r="2.30"/><circle cx="489.56" cy="575.51" r="2.30"/><circle cx="493.13" cy="574.38" r="2.30"/><circle cx="496.69" cy="572.73" r="2.30"/><circle cx="500.25" cy="570.90" r="2.30"/><circle cx="503.82" cy="569.01" r="2.30"/><circle cx="507.38" cy="566.23" r="2.30"/><circle cx="510.95" cy="563.45" r="2.30"/><circle cx="514.51" cy="560.43" r="2.30"/><circle cx="518.07" cy="556.95" r="2.30"/><circle cx="521.64" cy="552.80" r="2.30"/><circle cx="525.20" cy="547.71" r="2.30"/><circle cx="528.76" cy="542.62" r="2.30"/><circle cx="532.33" cy="536.12" r="2.30"/><circle cx="535.89" cy="529.35" r="2.30"/><circle cx="539.45" cy="522.91" r="2.30"/><circle cx="543.02" cy="516.68" r="2.30"/><circle cx="546.58" cy="510.09" r="2.30"/><circle cx="550.15" cy="504.01" r="2.30"/><circle cx="553.71" cy="496.41" r="2.30"/><circle cx="557.27" cy="489.83" r="2.30"/><circle cx="560.84" cy="489.32" r="2.30"/><circle cx="564.40" cy="483.75" r="2.30"/><circle cx="567.96" cy="479.19" r="2.30"/><circle cx="571.53" cy="477.67" r="2.30"/><circle cx="575.09" cy="474.12" r="2.30"/><circle cx="578.65" cy="474.63" r="2.30"/><circle cx="582.22" cy="475.13" r="2.30"/><circle cx="585.78" cy="475.13" r="2.30"/><circle cx="589.35" cy="478.17" r="2.30"/><circle cx="592.91" cy="479.69" r="2.30"/><circle cx="596.47" cy="484.25" r="2.30"/><circle cx="600.04" cy="488.81" r="2.30"/><circle cx="603.60" cy="493.88" r="2.30"/><circle cx="607.16" cy="498.95" r="2.30"/><circle cx="610.73" cy="503.51" r="2.30"/><circle cx="614.29" cy="509.08" r="2.30"/><circle cx="617.85" cy="515.16" r="2.30"/><circle cx="621.42" cy="521.75" r="2.30"/><circle cx="624.98" cy="528.33" r="2.30"/><circle cx="628.55" cy="534.67" r="2.30"/><circle cx="632.11" cy="541.51" r="2.30"/><circle cx="635.67" cy="547.08" r="2.30"/><circle cx="639.24" cy="551.64" r="2.30"/><circle cx="642.80" cy="556.10" r="2.30"/><circle cx="646.36" cy="560.30" r="2.30"/><circle cx="649.93" cy="564.05" r="2.30"/><circle cx="653.49" cy="567.04" r="2.30"/><circle cx="657.05" cy="570.13" r="2.30"/><circle cx="660.62" cy="572.26" r="2.30"/><circle cx="664.18" cy="574.03" r="2.30"/><circle cx="667.75" cy="575.45" r="2.30"/><circle cx="671.31" cy="576.47" r="2.30"/><circle cx="674.87" cy="577.23" r="2.30"/><circle cx="678.44" cy="577.73" r="2.30"/><circle cx="682.00" cy="577.99" r="2.30"/></g>
<g fill="#0072BD"><circle cx="486.00" cy="576.60" r="2.40"/><circle cx="489.56" cy="575.38" r="2.40"/><circle cx="493.13" cy="574.21" r="2.40"/><circle cx="496.69" cy="572.50" r="2.40"/><circle cx="500.25" cy="570.59" r="2.40"/><circle cx="503.82" cy="568.63" r="2.40"/><circle cx="507.38" cy="565.75" r="2.40"/><circle cx="510.95" cy="562.87" r="2.40"/><circle cx="514.51" cy="559.74" r="2.40"/><circle cx="518.07" cy="556.12" r="2.40"/><circle cx="521.64" cy="551.82" r="2.40"/><circle cx="525.20" cy="546.53" r="2.40"/><circle cx="528.76" cy="541.25" r="2.40"/><circle cx="532.33" cy="534.51" r="2.40"/><circle cx="535.89" cy="527.32" r="2.40"/><circle cx="539.45" cy="520.08" r="2.40"/><circle cx="543.02" cy="512.41" r="2.40"/><circle cx="546.58" cy="504.44" r="2.40"/><circle cx="550.15" cy="496.76" r="2.40"/><circle cx="553.71" cy="489.53" r="2.40"/><circle cx="557.27" cy="482.68" r="2.40"/><circle cx="560.84" cy="476.81" r="2.40"/><circle cx="564.40" cy="471.43" r="2.40"/><circle cx="567.96" cy="466.54" r="2.40"/><circle cx="571.53" cy="462.14" r="2.40"/><circle cx="575.09" cy="459.21" r="2.40"/><circle cx="578.65" cy="457.25" r="2.40"/><circle cx="582.22" cy="456.28" r="2.40"/><circle cx="585.78" cy="456.28" r="2.40"/><circle cx="589.35" cy="457.30" r="2.40"/><circle cx="592.91" cy="459.37" r="2.40"/><circle cx="596.47" cy="462.59" r="2.40"/><circle cx="600.04" cy="467.39" r="2.40"/><circle cx="603.60" cy="472.64" r="2.40"/><circle cx="607.16" cy="478.32" r="2.40"/><circle cx="610.73" cy="484.54" r="2.40"/><circle cx="614.29" cy="491.60" r="2.40"/><circle cx="617.85" cy="499.00" r="2.40"/><circle cx="621.42" cy="506.81" r="2.40"/><circle cx="624.98" cy="514.74" r="2.40"/><circle cx="628.55" cy="522.29" r="2.40"/><circle cx="632.11" cy="529.49" r="2.40"/><circle cx="635.67" cy="536.61" r="2.40"/><circle cx="639.24" cy="542.93" r="2.40"/><circle cx="642.80" cy="548.15" r="2.40"/><circle cx="646.36" cy="553.19" r="2.40"/><circle cx="649.93" cy="557.27" r="2.40"/><circle cx="653.49" cy="560.72" r="2.40"/><circle cx="657.05" cy="563.75" r="2.40"/><circle cx="660.62" cy="566.65" r="2.40"/><circle cx="664.18" cy="569.28" r="2.40"/><circle cx="667.75" cy="571.17" r="2.40"/><circle cx="671.31" cy="573.04" r="2.40"/><circle cx="674.87" cy="574.59" r="2.40"/><circle cx="678.44" cy="575.74" r="2.40"/><circle cx="682.00" cy="576.60" r="2.40"/></g>
<polyline fill="none" stroke="#0072BD" stroke-width="1.7" points="486.00,576.52 486.89,576.20 487.78,575.88 488.67,575.56 489.56,575.25 490.45,574.95 491.35,574.67 492.24,574.37 493.13,574.04 494.02,573.64 494.91,573.20 495.80,572.73 496.69,572.26 497.58,571.78 498.47,571.29 499.36,570.79 500.25,570.29 501.15,569.80 502.04,569.33 502.93,568.83 503.82,568.26 504.71,567.60 505.60,566.84 506.49,566.05 507.38,565.28 508.27,564.54 509.16,563.80 510.05,563.06 510.95,562.30 511.84,561.52 512.73,560.73 513.62,559.91 514.51,559.07 515.40,558.19 516.29,557.28 517.18,556.33 518.07,555.34 518.96,554.31 519.85,553.23 520.75,552.10 521.64,550.91 522.53,549.63 523.42,548.27 524.31,546.88 525.20,545.50 526.09,544.18 526.98,542.88 527.87,541.55 528.76,540.11 529.65,538.52 530.55,536.81 531.44,535.03 532.33,533.26 533.22,531.47 534.11,529.66 535.00,527.83 535.89,526.02 536.78,524.22 537.67,522.42 538.56,520.62 539.45,518.79 540.35,516.93 541.24,515.04 542.13,513.13 543.02,511.21 543.91,509.27 544.80,507.31 545.69,505.36 546.58,503.44 547.47,501.56 548.36,499.70 549.25,497.87 550.15,496.07 551.04,494.32 551.93,492.59 552.82,490.90 553.71,489.24 554.60,487.59 555.49,485.96 556.38,484.38 557.27,482.88 558.16,481.46 559.05,480.10 559.95,478.79 560.84,477.51 561.73,476.25 562.62,475.03 563.51,473.83 564.40,472.67 565.29,471.54 566.18,470.44 567.07,469.37 567.96,468.34 568.85,467.31 569.75,466.29 570.64,465.33 571.53,464.49 572.42,463.76 573.31,463.10 574.20,462.50 575.09,461.96 575.98,461.47 576.87,461.01 577.76,460.61 578.65,460.29 579.55,460.00 580.44,459.73 581.33,459.53 582.22,459.46 583.11,459.46 584.00,459.46 584.89,459.46 585.78,459.46 586.67,459.55 587.56,459.76 588.45,460.03 589.35,460.33 590.24,460.67 591.13,461.10 592.02,461.58 592.91,462.10 593.80,462.68 594.69,463.33 595.58,464.06 596.47,464.88 597.36,465.84 598.25,466.89 599.15,467.99 600.04,469.08 600.93,470.21 601.82,471.36 602.71,472.54 603.60,473.75 604.49,475.00 605.38,476.27 606.27,477.56 607.16,478.88 608.05,480.22 608.95,481.61 609.84,483.06 610.73,484.59 611.62,486.20 612.51,487.85 613.40,489.51 614.29,491.19 615.18,492.90 616.07,494.63 616.96,496.40 617.85,498.21 618.75,500.05 619.64,501.92 620.53,503.81 621.42,505.74 622.31,507.70 623.20,509.66 624.09,511.59 624.98,513.51 625.87,515.41 626.76,517.30 627.65,519.16 628.55,520.98 629.44,522.78 630.33,524.57 631.22,526.38 632.11,528.20 633.00,530.02 633.89,531.83 634.78,533.61 635.67,535.39 636.56,537.16 637.45,538.85 638.35,540.41 639.24,541.82 640.13,543.14 641.02,544.44 641.91,545.77 642.80,547.16 643.69,548.55 644.58,549.90 645.47,551.15 646.36,552.33 647.25,553.45 648.15,554.51 649.04,555.54 649.93,556.52 650.82,557.46 651.71,558.37 652.60,559.24 653.49,560.08 654.38,560.89 655.27,561.68 656.16,562.45 657.05,563.21 657.95,563.95 658.84,564.69 659.73,565.43 660.62,566.21 661.51,567.00 662.40,567.74 663.29,568.38 664.18,568.93 665.07,569.42 665.96,569.90 666.85,570.39 667.75,570.89 668.64,571.39 669.53,571.88 670.42,572.36 671.31,572.83 672.20,573.29 673.09,573.73 673.98,574.11 674.87,574.43 675.76,574.73 676.65,575.01 677.55,575.31 678.44,575.63 679.33,575.94 680.22,576.26 681.11,576.52 682.00,576.52"/>
<g fill="#D95319"><circle cx="486.00" cy="576.52" r="2.45"/><circle cx="489.56" cy="575.25" r="2.45"/><circle cx="493.13" cy="574.03" r="2.45"/><circle cx="496.69" cy="572.26" r="2.45"/><circle cx="500.25" cy="570.29" r="2.45"/><circle cx="503.82" cy="568.26" r="2.45"/><circle cx="507.38" cy="565.27" r="2.45"/><circle cx="510.95" cy="562.28" r="2.45"/><circle cx="514.51" cy="559.04" r="2.45"/><circle cx="518.07" cy="555.29" r="2.45"/><circle cx="521.64" cy="550.83" r="2.45"/><circle cx="525.20" cy="545.36" r="2.45"/><circle cx="528.76" cy="539.89" r="2.45"/><circle cx="532.33" cy="532.89" r="2.45"/><circle cx="535.89" cy="525.45" r="2.45"/><circle cx="539.45" cy="517.95" r="2.45"/><circle cx="543.02" cy="509.99" r="2.45"/><circle cx="546.58" cy="501.73" r="2.45"/><circle cx="550.15" cy="493.78" r="2.45"/><circle cx="553.71" cy="486.28" r="2.45"/><circle cx="557.27" cy="479.19" r="2.45"/><circle cx="560.84" cy="473.11" r="2.45"/><circle cx="564.40" cy="467.53" r="2.45"/><circle cx="567.96" cy="462.47" r="2.45"/><circle cx="571.53" cy="457.91" r="2.45"/><circle cx="575.09" cy="454.87" r="2.45"/><circle cx="578.65" cy="452.84" r="2.45"/><circle cx="582.22" cy="451.83" r="2.45"/><circle cx="585.78" cy="451.83" r="2.45"/><circle cx="589.35" cy="452.84" r="2.45"/><circle cx="592.91" cy="454.87" r="2.45"/><circle cx="596.47" cy="457.91" r="2.45"/><circle cx="600.04" cy="462.47" r="2.45"/><circle cx="603.60" cy="467.53" r="2.45"/><circle cx="607.16" cy="473.11" r="2.45"/><circle cx="610.73" cy="479.19" r="2.45"/><circle cx="614.29" cy="486.28" r="2.45"/><circle cx="617.85" cy="493.78" r="2.45"/><circle cx="621.42" cy="501.73" r="2.45"/><circle cx="624.98" cy="509.99" r="2.45"/><circle cx="628.55" cy="517.95" r="2.45"/><circle cx="632.11" cy="525.45" r="2.45"/><circle cx="635.67" cy="532.89" r="2.45"/><circle cx="639.24" cy="539.89" r="2.45"/><circle cx="642.80" cy="545.36" r="2.45"/><circle cx="646.36" cy="550.83" r="2.45"/><circle cx="649.93" cy="555.29" r="2.45"/><circle cx="653.49" cy="559.04" r="2.45"/><circle cx="657.05" cy="562.28" r="2.45"/><circle cx="660.62" cy="565.27" r="2.45"/><circle cx="664.18" cy="568.26" r="2.45"/><circle cx="667.75" cy="570.29" r="2.45"/><circle cx="671.31" cy="572.26" r="2.45"/><circle cx="674.87" cy="574.03" r="2.45"/><circle cx="678.44" cy="575.25" r="2.45"/><circle cx="682.00" cy="576.52" r="2.45"/></g>
<polyline fill="none" stroke="#D95319" stroke-width="1.7" points="486.00,576.52 486.89,576.20 487.78,575.88 488.67,575.56 489.56,575.25 490.45,574.95 491.35,574.67 492.24,574.37 493.13,574.03 494.02,573.64 494.91,573.20 495.80,572.73 496.69,572.26 497.58,571.78 498.47,571.29 499.36,570.79 500.25,570.29 501.15,569.80 502.04,569.33 502.93,568.82 503.82,568.26 504.71,567.60 505.60,566.84 506.49,566.05 507.38,565.28 508.27,564.54 509.16,563.80 510.05,563.05 510.95,562.29 511.84,561.51 512.73,560.72 513.62,559.90 514.51,559.06 515.40,558.18 516.29,557.26 517.18,556.31 518.07,555.32 518.96,554.29 519.85,553.21 520.75,552.07 521.64,550.88 522.53,549.60 523.42,548.24 524.31,546.83 525.20,545.45 526.09,544.13 526.98,542.82 527.87,541.48 528.76,540.03 529.65,538.43 530.55,536.71 531.44,534.93 532.33,533.14 533.22,531.34 534.11,529.51 535.00,527.66 535.89,525.83 536.78,524.01 537.67,522.19 538.56,520.37 539.45,518.51 540.35,516.62 541.24,514.70 542.13,512.76 543.02,510.80 543.91,508.83 544.80,506.83 545.69,504.84 546.58,502.87 547.47,500.95 548.36,499.04 549.25,497.16 550.15,495.31 551.04,493.50 551.93,491.72 552.82,489.97 553.71,488.25 554.60,486.54 555.49,484.85 556.38,483.21 557.27,481.65 558.16,480.17 559.05,478.75 559.95,477.38 560.84,476.04 561.73,474.73 562.62,473.44 563.51,472.18 564.40,470.96 565.29,469.77 566.18,468.61 567.07,467.48 567.96,466.38 568.85,465.29 569.75,464.21 570.64,463.19 571.53,462.30 572.42,461.52 573.31,460.81 574.20,460.17 575.09,459.60 575.98,459.07 576.87,458.58 577.76,458.15 578.65,457.81 579.55,457.50 580.44,457.21 581.33,457.00 582.22,456.91 583.11,456.91 584.00,456.91 584.89,456.91 585.78,456.91 586.67,457.00 587.56,457.21 588.45,457.50 589.35,457.81 590.24,458.15 591.13,458.58 592.02,459.07 592.91,459.60 593.80,460.17 594.69,460.81 595.58,461.52 596.47,462.30 597.36,463.19 598.25,464.21 599.15,465.29 600.04,466.38 600.93,467.48 601.82,468.61 602.71,469.77 603.60,470.96 604.49,472.18 605.38,473.44 606.27,474.73 607.16,476.04 608.05,477.38 608.95,478.75 609.84,480.17 610.73,481.65 611.62,483.21 612.51,484.85 613.40,486.54 614.29,488.25 615.18,489.97 616.07,491.72 616.96,493.50 617.85,495.31 618.75,497.16 619.64,499.04 620.53,500.95 621.42,502.87 622.31,504.84 623.20,506.83 624.09,508.83 624.98,510.80 625.87,512.76 626.76,514.70 627.65,516.62 628.55,518.51 629.44,520.37 630.33,522.19 631.22,524.01 632.11,525.83 633.00,527.66 633.89,529.51 634.78,531.34 635.67,533.14 636.56,534.93 637.45,536.71 638.35,538.43 639.24,540.03 640.13,541.48 641.02,542.82 641.91,544.13 642.80,545.45 643.69,546.83 644.58,548.24 645.47,549.60 646.36,550.88 647.25,552.07 648.15,553.21 649.04,554.29 649.93,555.32 650.82,556.31 651.71,557.26 652.60,558.18 653.49,559.06 654.38,559.90 655.27,560.72 656.16,561.51 657.05,562.29 657.95,563.05 658.84,563.80 659.73,564.54 660.62,565.28 661.51,566.05 662.40,566.84 663.29,567.60 664.18,568.26 665.07,568.82 665.96,569.33 666.85,569.80 667.75,570.29 668.64,570.79 669.53,571.29 670.42,571.78 671.31,572.26 672.20,572.73 673.09,573.20 673.98,573.64 674.87,574.03 675.76,574.37 676.65,574.67 677.55,574.95 678.44,575.25 679.33,575.56 680.22,575.88 681.11,576.20 682.00,576.52"/>
</g>
<text class="tk" x="483.40" y="582.20" text-anchor="end">0</text>
<text class="tk" x="483.40" y="531.53" text-anchor="end">1</text>
<text class="tk" x="483.40" y="480.87" text-anchor="end">2</text>
<text class="tk" x="483.40" y="430.20" text-anchor="end">3</text>
<text class="tk" x="521.64" y="592.20" text-anchor="middle">0</text>
<text class="tk" x="592.91" y="592.20" text-anchor="middle">20</text>
<text class="tk" x="664.18" y="592.20" text-anchor="middle">40</text>
<text class="tk" x="564.40" y="606.30" textLength="38.6" lengthAdjust="spacingAndGlyphs"><tspan font-style="italic">x</tspan> (mm)</text>
<text class="tk" x="522.85" y="420.70" textLength="122.3" lengthAdjust="spacingAndGlyphs"><tspan font-style="italic">ρ</tspan> = 35 mm; z=20.5 mm</text>
<text class="pl" x="495.63" y="450.06" font-size="13.9">(</text>
<text class="pl" x="501.95" y="451.15" font-size="15.4">i</text>
<text class="pl" x="507.67" y="450.06" font-size="13.9">)</text>
<g transform="translate(19.20 169.20) rotate(-90)"><path d="M2.20 -9.20L0.00 -3.55L2.20 2.10" fill="none" stroke="#000" stroke-width="0.75"/><text x="2.80" y="0.00" font-style="italic" font-size="12.7">l</text><text x="6.80" y="0.90" font-style="italic" font-size="7.3">i</text><path d="M10.60 -9.20L12.80 -3.55L10.60 2.10" fill="none" stroke="#000" stroke-width="0.75"/><text x="18.3" y="0" font-size="11.8" textLength="24.6" lengthAdjust="spacingAndGlyphs">(<tspan font-style="italic">μ</tspan>m)</text></g>
<g transform="translate(25.40 347.80) rotate(-90)"><path d="M2.20 -9.20L0.00 -3.55L2.20 2.10" fill="none" stroke="#000" stroke-width="0.75"/><text x="2.80" y="0.00" font-style="italic" font-size="12.7">l</text><text x="6.80" y="0.90" font-style="italic" font-size="7.3">i</text><path d="M10.60 -9.20L12.80 -3.55L10.60 2.10" fill="none" stroke="#000" stroke-width="0.75"/><text x="18.3" y="0" font-size="11.8" textLength="24.6" lengthAdjust="spacingAndGlyphs">(<tspan font-style="italic">μ</tspan>m)</text></g>
<g transform="translate(11.30 526.40) rotate(-90)"><path d="M2.20 -9.20L0.00 -3.55L2.20 2.10" fill="none" stroke="#000" stroke-width="0.75"/><text x="2.80" y="0.00" font-style="italic" font-size="12.7">l</text><text x="6.80" y="0.90" font-style="italic" font-size="7.3">i</text><path d="M10.60 -9.20L12.80 -3.55L10.60 2.10" fill="none" stroke="#000" stroke-width="0.75"/><text x="18.3" y="0" font-size="11.8" textLength="24.6" lengthAdjust="spacingAndGlyphs">(<tspan font-style="italic">μ</tspan>m)</text></g>
<text x="233.40" y="10.90" font-size="12.10" font-style="italic">μ</text>
<text x="240.40" y="12.30" font-size="8.50" font-style="italic">a</text>
<text x="249.50" y="10.90" font-size="12.10" textLength="8.30" lengthAdjust="spacingAndGlyphs">=</text>
<text x="261.20" y="10.90" font-size="12.10">0.010</text>
<text x="292.80" y="10.90" font-size="12.10" textLength="19.40" lengthAdjust="spacingAndGlyphs">mm</text>
<text x="312.60" y="6.60" font-size="8.50" textLength="9.70" lengthAdjust="spacingAndGlyphs">−1</text>
<text x="323.40" y="10.90" font-size="12.10">;</text>
<text x="330.60" y="10.90" font-size="12.10" font-style="italic">μ</text>
<text x="336.90" y="11.80" font-size="12.50">′</text>
<text x="337.40" y="13.10" font-size="8.50" font-style="italic">s</text>
<text x="346.00" y="10.90" font-size="12.10" textLength="8.00" lengthAdjust="spacingAndGlyphs">=</text>
<text x="358.60" y="10.90" font-size="12.10" textLength="14.60" lengthAdjust="spacingAndGlyphs">1.0</text>
<text x="377.00" y="10.90" font-size="12.10" textLength="19.40" lengthAdjust="spacingAndGlyphs">mm</text>
<text x="396.60" y="6.60" font-size="8.50" textLength="10.10" lengthAdjust="spacingAndGlyphs">−1</text>
<text x="408.80" y="10.90" font-size="12.10">;</text>
<text x="415.00" y="10.90" font-size="12.10" font-style="italic">g</text>
<text x="424.70" y="10.90" font-size="12.10" textLength="8.70" lengthAdjust="spacingAndGlyphs">=</text>
<text x="437.30" y="10.90" font-size="12.10" textLength="14.60" lengthAdjust="spacingAndGlyphs">0.9</text>
<rect x="211.6" y="19.6" width="388.6" height="33.5" fill="#fff" stroke="#1a1a1a" stroke-width="1.25"/>
<path d="M238.20 23.70V34.30M236.70 23.70H239.70M236.70 34.30H239.70" stroke="#000" stroke-width="1.3"/><circle cx="238.20" cy="29.00" r="2.45" fill="#000"/>
<path d="M380.50 23.90V34.50M379.00 23.90H382.00M379.00 34.50H382.00" stroke="#0072BD" stroke-width="1.3"/><circle cx="380.50" cy="29.20" r="2.45" fill="#0072BD"/>
<path d="M238.20 38.60V49.20M236.70 38.60H239.70M236.70 49.20H239.70" stroke="#D95319" stroke-width="1.3"/><circle cx="238.20" cy="43.90" r="2.45" fill="#D95319"/>
<line x1="496" y1="29" x2="540.7" y2="29" stroke="#0072BD" stroke-width="1.7"/>
<line x1="358.4" y1="43.6" x2="402.3" y2="43.6" stroke="#D95319" stroke-width="1.7"/>
<path d="M267.00 23.10L264.80 28.75L267.00 34.40" fill="none" stroke="#000" stroke-width="0.75"/><text x="267.60" y="32.30" font-style="italic" font-size="12.7">l</text><text x="271.60" y="33.20" font-style="italic" font-size="7.3">i</text><path d="M275.40 23.10L277.60 28.75L275.40 34.40" fill="none" stroke="#000" stroke-width="0.75"/>
<text x="280.00" y="33.80" font-size="8.8" textLength="34.7" lengthAdjust="spacingAndGlyphs"><tspan font-style="italic">R</tspan>−<tspan font-style="italic">M</tspan><tspan font-style="italic">C</tspan><tspan font-style="italic">X</tspan></text>
<path d="M267.00 37.70L264.80 43.35L267.00 49.00" fill="none" stroke="#000" stroke-width="0.75"/><text x="267.60" y="46.90" font-style="italic" font-size="12.7">l</text><text x="271.60" y="47.80" font-style="italic" font-size="7.3">i</text><path d="M275.40 37.70L277.60 43.35L275.40 49.00" fill="none" stroke="#000" stroke-width="0.75"/>
<text x="280.00" y="48.40" font-size="8.8" textLength="69.8" lengthAdjust="spacingAndGlyphs">Φ−<tspan font-style="italic">M</tspan><tspan font-style="italic">C</tspan><tspan font-style="italic">X</tspan>(<tspan font-style="italic">z</tspan>=1/<tspan font-style="italic">μ</tspan>′<tspan font-size="6" dy="1.6" font-style="italic">s</tspan><tspan dy="-1.6">)</tspan></text>
<path d="M408.80 23.10L406.60 28.75L408.80 34.40" fill="none" stroke="#000" stroke-width="0.75"/><text x="409.40" y="32.30" font-style="italic" font-size="12.7">l</text><text x="413.40" y="33.20" font-style="italic" font-size="7.3">i</text><path d="M417.20 23.10L419.40 28.75L417.20 34.40" fill="none" stroke="#000" stroke-width="0.75"/>
<text x="421.90" y="33.80" font-size="8.8" textLength="64.2" lengthAdjust="spacingAndGlyphs">Φ−<tspan font-style="italic">M</tspan><tspan font-style="italic">C</tspan><tspan font-style="italic">X</tspan>(<tspan font-style="italic">z</tspan>=<tspan font-style="italic">s</tspan>/2)</text>
<path d="M408.80 37.70L406.60 43.35L408.80 49.00" fill="none" stroke="#000" stroke-width="0.75"/><text x="409.40" y="46.90" font-style="italic" font-size="12.7">l</text><text x="413.40" y="47.80" font-style="italic" font-size="7.3">i</text><path d="M417.20 37.70L419.40 43.35L417.20 49.00" fill="none" stroke="#000" stroke-width="0.75"/>
<text x="421.90" y="48.40" font-size="8.8" textLength="39.1" lengthAdjust="spacingAndGlyphs">Φ(<tspan font-style="italic">z</tspan>=1/<tspan font-style="italic">μ</tspan>′<tspan font-size="6" dy="1.6" font-style="italic">s</tspan><tspan dy="-1.6">)</tspan></text>
<path d="M547.40 23.10L545.20 28.75L547.40 34.40" fill="none" stroke="#000" stroke-width="0.75"/><text x="548.00" y="32.30" font-style="italic" font-size="12.7">l</text><text x="552.00" y="33.20" font-style="italic" font-size="7.3">i</text><path d="M555.80 23.10L558.00 28.75L555.80 34.40" fill="none" stroke="#000" stroke-width="0.75"/>
<text x="560.50" y="33.80" font-size="8.8" textLength="34.4" lengthAdjust="spacingAndGlyphs">Φ(<tspan font-style="italic">z</tspan>=<tspan font-style="italic">s</tspan>/2)</text>
</svg></body></html>
